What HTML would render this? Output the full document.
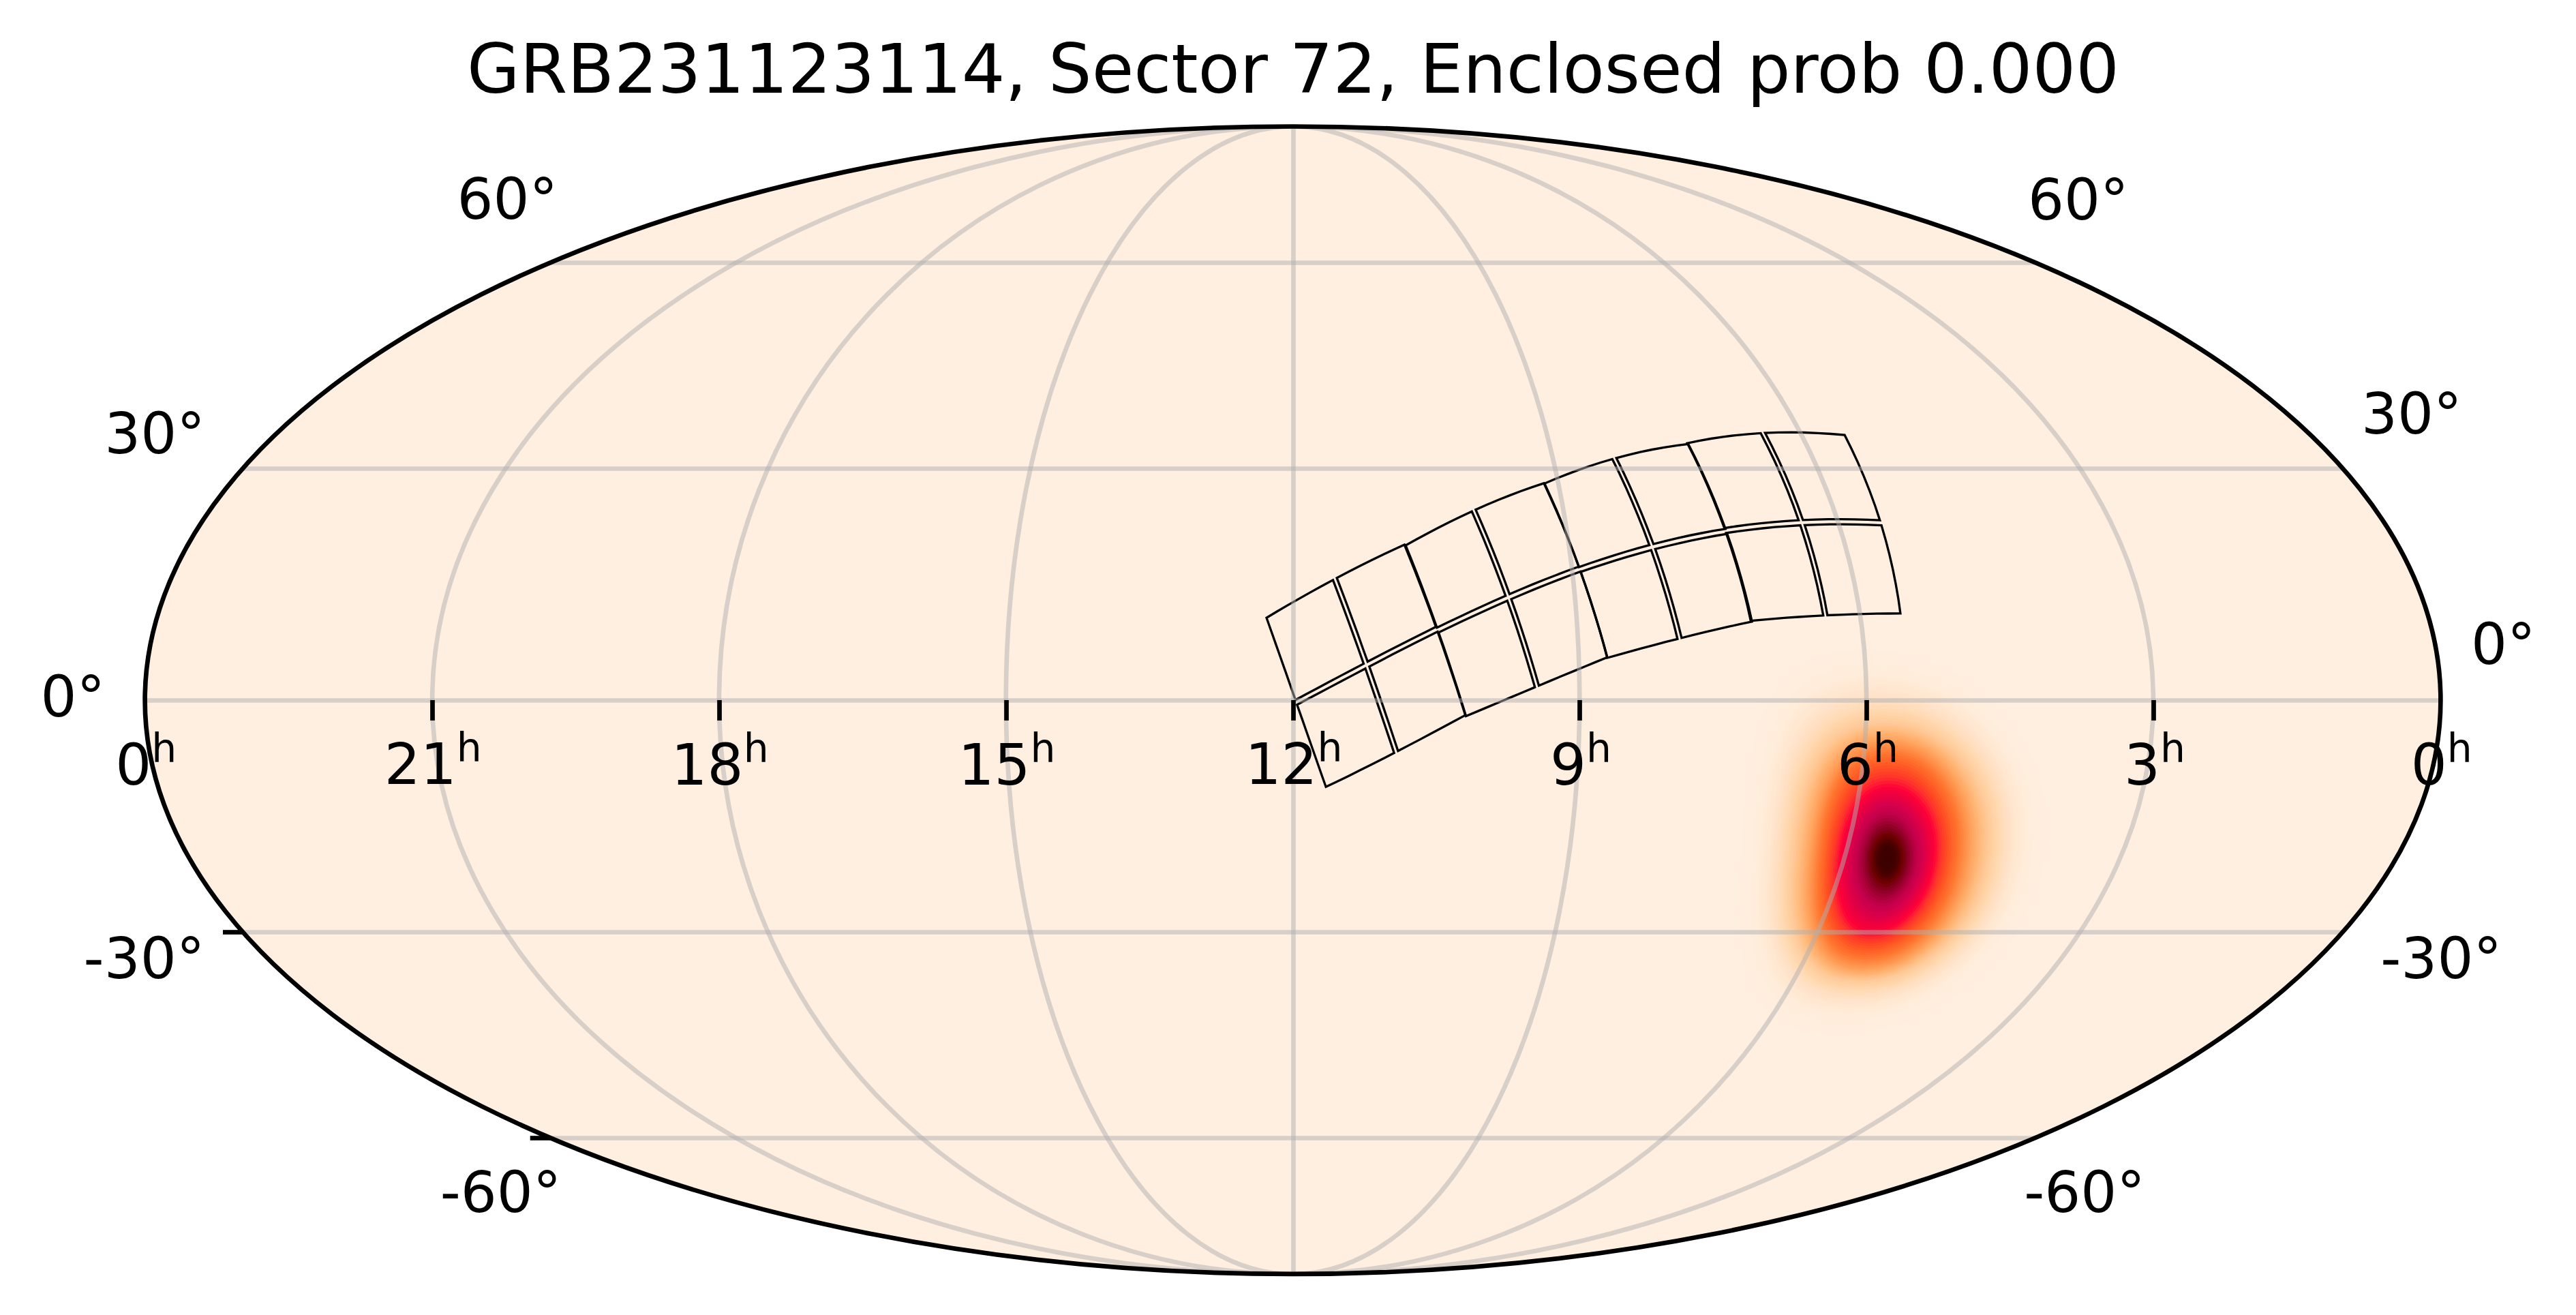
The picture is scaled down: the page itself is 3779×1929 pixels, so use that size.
<!DOCTYPE html>
<html><head><meta charset="utf-8"><title>GRB231123114, Sector 72</title>
<style>
html,body{margin:0;padding:0;background:#fff;}
svg{display:block;}
text{font-family:"DejaVu Sans","Liberation Sans",sans-serif;fill:#000;}
</style></head><body>
<svg width="3779" height="1929" viewBox="0 0 3779 1929">
<rect width="3779" height="1929" fill="#fff"/>
<defs><clipPath id="fr"><ellipse cx="1896.5" cy="1027.2" rx="1683.9" ry="841.7"/></clipPath></defs>
<ellipse cx="1896.5" cy="1027.2" rx="1683.9" ry="841.7" fill="#ffefe0"/>

<g clip-path="url(#fr)">
<path fill="#ffefdf" d="M3010.6 1233.4L3001.9 1289.3L2985.3 1335.9L2961.7 1377.8L2932.3 1415.1L2898.1 1447.6L2860.6 1474.9L2820.7 1496.5L2779.6 1512.3L2737.6 1521.8L2691.5 1525.0L2648.7 1521.8L2616.7 1512.3L2591.3 1496.5L2571.8 1474.9L2557.8 1447.6L2548.6 1415.1L2543.6 1377.8L2542.1 1335.9L2543.6 1289.3L2547.2 1233.4L2551.0 1177.4L2555.8 1130.8L2562.8 1089.0L2572.8 1051.6L2586.3 1019.2L2604.0 991.9L2626.3 970.2L2653.8 954.5L2687.2 944.9L2730.3 941.7L2776.0 944.9L2816.7 954.5L2855.8 970.2L2892.7 991.9L2926.7 1019.2L2956.5 1051.6L2980.9 1089.0L2998.9 1130.8L3009.3 1177.4Z"/>
<path fill="#ffefdf" d="M3007.6 1233.8L2998.9 1289.0L2982.6 1335.1L2959.4 1376.5L2930.3 1413.4L2896.7 1445.5L2859.7 1472.5L2820.4 1494.0L2779.8 1509.5L2738.4 1519.0L2692.9 1522.1L2650.7 1519.0L2619.0 1509.5L2593.9 1494.0L2574.6 1472.5L2560.6 1445.5L2551.4 1413.4L2546.4 1376.5L2544.9 1335.1L2546.3 1289.0L2550.0 1233.8L2553.7 1178.5L2558.6 1132.5L2565.6 1091.1L2575.6 1054.1L2589.1 1022.0L2606.7 995.0L2628.9 973.6L2656.1 958.0L2689.0 948.6L2731.6 945.4L2776.7 948.6L2816.9 958.0L2855.4 973.6L2891.8 995.0L2925.2 1022.0L2954.5 1054.1L2978.5 1091.1L2996.2 1132.5L3006.4 1178.5Z"/>
<path fill="#ffefdf" d="M3004.6 1234.2L2996.0 1288.8L2979.9 1334.3L2957.0 1375.2L2928.4 1411.7L2895.3 1443.5L2858.8 1470.2L2820.0 1491.4L2780.0 1506.8L2739.2 1516.1L2694.3 1519.2L2652.6 1516.1L2621.3 1506.8L2596.4 1491.4L2577.3 1470.2L2563.4 1443.5L2554.3 1411.7L2549.3 1375.2L2547.7 1334.3L2549.1 1288.8L2552.7 1234.2L2556.5 1179.6L2561.3 1134.1L2568.4 1093.1L2578.4 1056.6L2591.8 1024.9L2609.3 998.2L2631.4 977.0L2658.3 961.6L2690.9 952.3L2733.0 949.1L2777.4 952.3L2817.0 961.6L2855.0 977.0L2890.8 998.2L2923.7 1024.9L2952.5 1056.6L2976.2 1093.1L2993.5 1134.1L3003.4 1179.6Z"/>
<path fill="#ffeedf" d="M3001.5 1234.6L2993.1 1288.5L2977.2 1333.5L2954.6 1374.0L2926.5 1410.0L2893.8 1441.5L2857.9 1467.8L2819.7 1488.8L2780.2 1504.0L2739.9 1513.3L2695.6 1516.4L2654.5 1513.3L2623.6 1504.0L2599.0 1488.8L2580.0 1467.8L2566.2 1441.5L2557.1 1410.0L2552.1 1374.0L2550.5 1333.5L2551.8 1288.5L2555.4 1234.6L2559.2 1180.7L2564.1 1135.7L2571.2 1095.2L2581.2 1059.1L2594.6 1027.7L2612.0 1001.3L2633.8 980.4L2660.5 965.2L2692.7 955.9L2734.3 952.8L2778.1 955.9L2817.2 965.2L2854.5 980.4L2889.8 1001.3L2922.2 1027.7L2950.5 1059.1L2973.7 1095.2L2990.7 1135.7L3000.5 1180.7Z"/>
<path fill="#ffeede" d="M2998.5 1235.0L2990.1 1288.2L2974.5 1332.7L2952.3 1372.7L2924.6 1408.4L2892.4 1439.4L2856.9 1465.5L2819.3 1486.2L2780.4 1501.3L2740.7 1510.4L2697.0 1513.5L2656.5 1510.4L2625.9 1501.3L2601.5 1486.2L2582.7 1465.5L2569.1 1439.4L2560.0 1408.4L2554.9 1372.7L2553.3 1332.7L2554.6 1288.2L2558.1 1235.0L2561.9 1181.8L2566.9 1137.3L2574.0 1097.3L2584.0 1061.6L2597.4 1030.6L2614.7 1004.5L2636.3 983.8L2662.7 968.7L2694.6 959.6L2735.5 956.5L2778.8 959.6L2817.3 968.7L2854.1 983.8L2888.8 1004.5L2920.7 1030.6L2948.5 1061.6L2971.3 1097.3L2988.0 1137.3L2997.5 1181.8Z"/>
<path fill="#ffeede" d="M2995.5 1235.4L2987.2 1288.0L2971.8 1331.9L2949.9 1371.4L2922.6 1406.7L2890.9 1437.4L2856.0 1463.1L2819.0 1483.6L2780.6 1498.5L2741.4 1507.5L2698.4 1510.5L2658.4 1507.5L2628.2 1498.5L2604.1 1483.6L2585.5 1463.1L2571.9 1437.4L2562.8 1406.7L2557.8 1371.4L2556.1 1331.9L2557.3 1288.0L2560.8 1235.4L2564.7 1182.8L2569.6 1138.9L2576.8 1099.4L2586.7 1064.2L2600.1 1033.5L2617.3 1007.7L2638.8 987.2L2664.9 972.3L2696.4 963.3L2736.8 960.3L2779.4 963.3L2817.4 972.3L2853.6 987.2L2887.8 1007.7L2919.2 1033.5L2946.5 1064.2L2968.9 1099.4L2985.3 1138.9L2994.6 1182.8Z"/>
<path fill="#ffeede" d="M2992.5 1235.8L2984.3 1287.7L2969.1 1331.1L2947.6 1370.1L2920.7 1405.0L2889.5 1435.3L2855.1 1460.8L2818.6 1481.0L2780.8 1495.7L2742.2 1504.6L2699.7 1507.6L2660.3 1504.6L2630.4 1495.7L2606.6 1481.0L2588.2 1460.8L2574.7 1435.3L2565.7 1405.0L2560.6 1370.1L2558.9 1331.1L2560.1 1287.7L2563.5 1235.8L2567.4 1183.9L2572.4 1140.5L2579.5 1101.5L2589.5 1066.7L2602.8 1036.3L2619.9 1010.9L2641.2 990.6L2667.1 975.9L2698.2 967.0L2738.0 964.0L2780.1 967.0L2817.5 975.9L2853.2 990.6L2886.8 1010.9L2917.6 1036.3L2944.5 1066.7L2966.5 1101.5L2982.5 1140.5L2991.6 1183.9Z"/>
<path fill="#ffeedd" d="M2989.4 1236.2L2981.4 1287.4L2966.4 1330.3L2945.2 1368.9L2918.7 1403.3L2888.0 1433.2L2854.2 1458.4L2818.2 1478.4L2781.0 1492.9L2742.9 1501.7L2701.1 1504.7L2662.2 1501.7L2632.7 1492.9L2609.1 1478.4L2590.9 1458.4L2577.5 1433.2L2568.5 1403.3L2563.4 1368.9L2561.7 1330.3L2562.8 1287.4L2566.2 1236.2L2570.1 1185.0L2575.1 1142.2L2582.3 1103.6L2592.3 1069.2L2605.5 1039.2L2622.5 1014.0L2643.6 994.0L2669.2 979.5L2700.0 970.7L2739.3 967.8L2780.7 970.7L2817.5 979.5L2852.7 994.0L2885.8 1014.0L2916.1 1039.2L2942.5 1069.2L2964.1 1103.6L2979.8 1142.2L2988.6 1185.0Z"/>
<path fill="#ffeddd" d="M2986.4 1236.6L2978.4 1287.2L2963.7 1329.5L2942.8 1367.6L2916.8 1401.6L2886.6 1431.2L2853.2 1456.0L2817.8 1475.8L2781.2 1490.1L2743.6 1498.8L2702.4 1501.8L2664.1 1498.8L2635.0 1490.1L2611.7 1475.8L2593.6 1456.0L2580.3 1431.2L2571.4 1401.6L2566.3 1367.6L2564.5 1329.5L2565.6 1287.2L2569.0 1236.6L2572.8 1186.1L2577.9 1143.8L2585.1 1105.7L2595.0 1071.7L2608.2 1042.1L2625.1 1017.2L2646.0 997.5L2671.4 983.1L2701.7 974.4L2740.5 971.5L2781.3 974.4L2817.6 983.1L2852.2 997.5L2884.8 1017.2L2914.5 1042.1L2940.5 1071.7L2961.6 1105.7L2977.0 1143.8L2985.7 1186.1Z"/>
<path fill="#ffeddc" d="M2983.4 1237.0L2975.5 1286.9L2961.0 1328.7L2940.5 1366.3L2914.8 1399.8L2885.1 1429.1L2852.3 1453.6L2817.4 1473.2L2781.3 1487.3L2744.4 1495.9L2703.7 1498.8L2665.9 1495.9L2637.2 1487.3L2614.2 1473.2L2596.3 1453.6L2583.1 1429.1L2574.2 1399.8L2569.1 1366.3L2567.3 1328.7L2568.3 1286.9L2571.7 1237.0L2575.6 1187.2L2580.6 1145.4L2587.9 1107.8L2597.8 1074.2L2610.9 1045.0L2627.7 1020.4L2648.4 1000.9L2673.5 986.8L2703.5 978.2L2741.7 975.3L2781.9 978.2L2817.6 986.8L2851.7 1000.9L2883.7 1020.4L2913.0 1045.0L2938.4 1074.2L2959.2 1107.8L2974.3 1145.4L2982.7 1187.2Z"/>
<path fill="#ffeddb" d="M2980.3 1237.5L2972.6 1286.6L2958.3 1327.9L2938.1 1365.0L2912.9 1398.1L2883.6 1427.0L2851.4 1451.3L2817.0 1470.5L2781.5 1484.5L2745.1 1493.0L2705.1 1495.9L2667.8 1493.0L2639.4 1484.5L2616.7 1470.5L2599.0 1451.3L2585.9 1427.0L2577.0 1398.1L2572.0 1365.0L2570.1 1327.9L2571.1 1286.6L2574.4 1237.5L2578.3 1188.3L2583.4 1147.0L2590.6 1109.9L2600.5 1076.8L2613.6 1047.9L2630.2 1023.7L2650.8 1004.4L2675.6 990.4L2705.2 981.9L2742.8 979.0L2782.4 981.9L2817.6 990.4L2851.1 1004.4L2882.6 1023.7L2911.4 1047.9L2936.4 1076.8L2956.8 1109.9L2971.5 1147.0L2979.8 1188.3Z"/>
<path fill="#ffecdb" d="M2977.3 1237.9L2969.6 1286.4L2955.6 1327.1L2935.7 1363.7L2910.9 1396.4L2882.2 1424.9L2850.4 1448.9L2816.6 1467.9L2781.6 1481.7L2745.8 1490.1L2706.4 1492.9L2669.6 1490.1L2641.7 1481.7L2619.2 1467.9L2601.6 1448.9L2588.7 1424.9L2579.9 1396.4L2574.8 1363.7L2573.0 1327.1L2573.9 1286.4L2577.1 1237.9L2581.0 1189.4L2586.1 1148.7L2593.4 1112.0L2603.3 1079.3L2616.3 1050.8L2632.8 1026.9L2653.1 1007.8L2677.7 994.0L2706.9 985.6L2744.0 982.8L2783.0 985.6L2817.6 994.0L2850.6 1007.8L2881.6 1026.9L2909.8 1050.8L2934.3 1079.3L2954.3 1112.0L2968.7 1148.7L2976.8 1189.4Z"/>
<path fill="#ffecda" d="M2974.3 1238.4L2966.7 1286.2L2952.8 1326.4L2933.3 1362.5L2908.9 1394.8L2880.7 1423.0L2849.4 1446.6L2816.2 1465.4L2781.7 1479.0L2746.4 1487.3L2707.6 1490.1L2671.4 1487.3L2643.8 1479.0L2621.6 1465.4L2604.3 1446.6L2591.4 1423.0L2582.7 1394.8L2577.6 1362.5L2575.7 1326.4L2576.6 1286.2L2579.8 1238.4L2583.7 1190.6L2588.9 1150.4L2596.1 1114.3L2606.0 1082.0L2619.0 1053.9L2635.3 1030.2L2655.5 1011.5L2679.8 997.8L2708.6 989.5L2745.2 986.8L2783.6 989.5L2817.6 997.8L2850.1 1011.5L2880.5 1030.2L2908.2 1053.9L2932.3 1082.0L2951.9 1114.3L2966.0 1150.4L2973.8 1190.6Z"/>
<path fill="#ffebd8" d="M2971.2 1239.0L2963.7 1286.2L2950.1 1325.8L2930.9 1361.4L2906.9 1393.3L2879.1 1421.1L2848.4 1444.4L2815.7 1462.9L2781.8 1476.4L2747.0 1484.6L2708.8 1487.3L2673.2 1484.6L2645.9 1476.4L2624.0 1462.9L2606.8 1444.4L2594.1 1421.1L2585.4 1393.3L2580.4 1361.4L2578.5 1325.8L2579.3 1286.2L2582.5 1239.0L2586.5 1191.9L2591.6 1152.3L2598.9 1116.6L2608.8 1084.8L2621.6 1057.0L2637.9 1033.7L2657.9 1015.1L2681.9 1001.7L2710.3 993.5L2746.4 990.8L2784.1 993.5L2817.7 1001.7L2849.5 1015.1L2879.4 1033.7L2906.6 1057.0L2930.3 1084.8L2949.4 1116.6L2963.2 1152.3L2970.9 1191.9Z"/>
<path fill="#ffead6" d="M2968.2 1239.6L2960.8 1286.1L2947.4 1325.2L2928.5 1360.3L2904.9 1391.8L2877.5 1419.2L2847.3 1442.2L2815.2 1460.5L2781.8 1473.7L2747.6 1481.8L2710.0 1484.5L2674.9 1481.8L2648.1 1473.7L2626.4 1460.5L2609.4 1442.2L2596.8 1419.2L2588.2 1391.8L2583.1 1360.3L2581.3 1325.2L2582.1 1286.1L2585.2 1239.6L2589.2 1193.2L2594.4 1154.1L2601.6 1118.9L2611.5 1087.5L2624.3 1060.1L2640.5 1037.1L2660.2 1018.8L2683.9 1005.6L2712.0 997.5L2747.5 994.8L2784.7 997.5L2817.7 1005.6L2849.0 1018.8L2878.4 1037.1L2905.1 1060.1L2928.2 1087.5L2947.0 1118.9L2960.5 1154.1L2967.9 1193.2Z"/>
<path fill="#ffe9d4" d="M2965.1 1240.3L2957.8 1286.1L2944.6 1324.6L2926.0 1359.2L2902.9 1390.2L2876.0 1417.2L2846.3 1439.9L2814.6 1458.0L2781.8 1471.1L2748.2 1479.0L2711.2 1481.7L2676.6 1479.0L2650.2 1471.1L2628.8 1458.0L2612.0 1439.9L2599.5 1417.2L2590.9 1390.2L2585.9 1359.2L2584.0 1324.6L2584.8 1286.1L2588.0 1240.3L2591.9 1194.5L2597.1 1156.0L2604.4 1121.3L2614.2 1090.3L2627.0 1063.3L2643.0 1040.6L2662.6 1022.5L2686.0 1009.4L2713.7 1001.5L2748.6 998.8L2785.2 1001.5L2817.7 1009.4L2848.4 1022.5L2877.3 1040.6L2903.5 1063.3L2926.2 1090.3L2944.5 1121.3L2957.7 1156.0L2964.9 1194.5Z"/>
<path fill="#ffe8d2" d="M2962.1 1240.9L2954.9 1286.0L2941.9 1323.9L2923.6 1358.1L2900.8 1388.7L2874.4 1415.3L2845.2 1437.7L2814.1 1455.5L2781.9 1468.4L2748.7 1476.3L2712.3 1478.9L2678.3 1476.3L2652.3 1468.4L2631.2 1455.5L2614.6 1437.7L2602.2 1415.3L2593.7 1388.7L2588.7 1358.1L2586.8 1323.9L2587.5 1286.0L2590.7 1240.9L2594.6 1195.8L2599.8 1157.8L2607.1 1123.6L2616.9 1093.1L2629.6 1066.4L2645.5 1044.0L2664.9 1026.2L2688.0 1013.3L2715.4 1005.5L2749.8 1002.9L2785.7 1005.5L2817.6 1013.3L2847.9 1026.2L2876.2 1044.0L2901.8 1066.4L2924.1 1093.1L2942.0 1123.6L2954.9 1157.8L2961.9 1195.8Z"/>
<path fill="#ffe7d0" d="M2959.0 1241.5L2951.9 1285.9L2939.1 1323.3L2921.2 1357.0L2898.8 1387.2L2872.9 1413.4L2844.2 1435.5L2813.6 1453.0L2781.9 1465.8L2749.3 1473.5L2713.5 1476.1L2680.0 1473.5L2654.3 1465.8L2633.5 1453.0L2617.1 1435.5L2604.9 1413.4L2596.5 1387.2L2591.5 1357.0L2589.6 1323.3L2590.3 1285.9L2593.4 1241.5L2597.4 1197.1L2602.6 1159.7L2609.9 1126.0L2619.6 1095.8L2632.3 1069.6L2648.0 1047.5L2667.2 1030.0L2690.1 1017.2L2717.0 1009.5L2750.8 1006.9L2786.2 1009.5L2817.6 1017.2L2847.3 1030.0L2875.0 1047.5L2900.2 1069.6L2922.0 1095.8L2939.6 1126.0L2952.1 1159.7L2959.0 1197.1Z"/>
<path fill="#ffe5ce" d="M2956.0 1242.1L2948.9 1285.9L2936.4 1322.7L2918.7 1355.9L2896.8 1385.6L2871.3 1411.5L2843.1 1433.2L2813.1 1450.5L2781.9 1463.1L2749.9 1470.7L2714.7 1473.3L2681.7 1470.7L2656.4 1463.1L2635.9 1450.5L2619.7 1433.2L2607.6 1411.5L2599.2 1385.6L2594.3 1355.9L2592.3 1322.7L2593.0 1285.9L2596.1 1242.1L2600.1 1198.4L2605.3 1161.5L2612.6 1128.3L2622.3 1098.6L2634.9 1072.7L2650.5 1051.0L2669.5 1033.7L2692.0 1021.1L2718.6 1013.5L2751.9 1011.0L2786.7 1013.5L2817.5 1021.1L2846.7 1033.7L2873.9 1051.0L2898.6 1072.7L2919.9 1098.6L2937.1 1128.3L2949.4 1161.5L2956.0 1198.4Z"/>
<path fill="#ffe4cb" d="M2952.9 1242.7L2946.0 1285.8L2933.6 1322.1L2916.3 1354.8L2894.7 1384.1L2869.7 1409.6L2842.0 1431.0L2812.5 1448.0L2781.9 1460.4L2750.4 1467.9L2715.8 1470.5L2683.4 1467.9L2658.5 1460.4L2638.3 1448.0L2622.3 1431.0L2610.3 1409.6L2602.0 1384.1L2597.0 1354.8L2595.1 1322.1L2595.8 1285.8L2598.8 1242.7L2602.8 1199.7L2608.0 1163.4L2615.3 1130.7L2625.0 1101.4L2637.5 1075.9L2653.0 1054.5L2671.7 1037.4L2694.0 1025.0L2720.2 1017.5L2753.0 1015.0L2787.1 1017.5L2817.4 1025.0L2846.0 1037.4L2872.8 1054.5L2896.9 1075.9L2917.8 1101.4L2934.6 1130.7L2946.6 1163.4L2953.0 1199.7Z"/>
<path fill="#ffe2c7" d="M2949.9 1243.4L2943.0 1285.7L2930.9 1321.5L2913.9 1353.7L2892.7 1382.5L2868.1 1407.6L2841.0 1428.7L2812.0 1445.5L2781.9 1457.7L2750.9 1465.1L2716.9 1467.6L2685.1 1465.1L2660.6 1457.7L2640.6 1445.5L2624.8 1428.7L2613.0 1407.6L2604.7 1382.5L2599.8 1353.7L2597.9 1321.5L2598.5 1285.7L2601.5 1243.4L2605.5 1201.0L2610.8 1165.3L2618.0 1133.0L2627.7 1104.2L2640.1 1079.1L2655.4 1058.0L2674.0 1041.2L2696.0 1029.0L2721.7 1021.6L2754.0 1019.1L2787.6 1021.6L2817.3 1029.0L2845.4 1041.2L2871.6 1058.0L2895.3 1079.1L2915.7 1104.2L2932.1 1133.0L2943.8 1165.3L2950.0 1201.0Z"/>
<path fill="#ffe0c4" d="M2946.8 1244.0L2940.1 1285.7L2928.1 1320.8L2911.4 1352.6L2890.7 1380.9L2866.6 1405.7L2839.9 1426.5L2811.5 1443.0L2781.9 1455.0L2751.5 1462.3L2718.1 1464.8L2686.8 1462.3L2662.6 1455.0L2642.9 1443.0L2627.4 1426.5L2615.6 1405.7L2607.5 1380.9L2602.6 1352.6L2600.6 1320.8L2601.2 1285.7L2604.2 1244.0L2608.2 1202.3L2613.5 1167.1L2620.7 1135.4L2630.4 1107.0L2642.7 1082.3L2657.9 1061.5L2676.2 1044.9L2697.9 1032.9L2723.3 1025.6L2755.0 1023.2L2788.0 1025.6L2817.2 1032.9L2844.7 1044.9L2870.4 1061.5L2893.6 1082.3L2913.6 1107.0L2929.6 1135.4L2941.0 1167.1L2947.0 1202.3Z"/>
<path fill="#ffdfc0" d="M2943.8 1244.6L2937.1 1285.6L2925.4 1320.2L2909.0 1351.4L2888.6 1379.4L2865.0 1403.7L2838.8 1424.2L2810.9 1440.5L2781.9 1452.3L2752.0 1459.5L2719.2 1461.9L2688.5 1459.5L2664.7 1452.3L2645.3 1440.5L2629.9 1424.2L2618.3 1403.7L2610.2 1379.4L2605.4 1351.4L2603.4 1320.2L2604.0 1285.6L2606.9 1244.6L2610.9 1203.6L2616.2 1169.0L2623.4 1137.7L2633.0 1109.8L2645.2 1085.4L2660.3 1065.0L2678.4 1048.7L2699.8 1036.9L2724.8 1029.7L2755.9 1027.3L2788.4 1029.7L2817.0 1036.9L2844.0 1048.7L2869.2 1065.0L2891.9 1085.4L2911.4 1109.8L2927.1 1137.7L2938.2 1169.0L2944.0 1203.6Z"/>
<path fill="#ffddbb" d="M2940.7 1245.2L2934.1 1285.5L2922.6 1319.6L2906.6 1350.4L2886.6 1377.9L2863.4 1401.9L2837.7 1422.1L2810.3 1438.1L2781.8 1449.8L2752.5 1456.8L2720.3 1459.2L2690.1 1456.8L2666.7 1449.8L2647.6 1438.1L2632.4 1422.1L2620.9 1401.9L2613.0 1377.9L2608.1 1350.4L2606.2 1319.6L2606.7 1285.5L2609.7 1245.2L2613.6 1204.8L2618.9 1170.8L2626.1 1140.0L2635.6 1112.5L2647.7 1088.5L2662.6 1068.3L2680.6 1052.3L2701.6 1040.6L2726.2 1033.6L2756.9 1031.2L2788.7 1033.6L2816.8 1040.6L2843.3 1052.3L2867.9 1068.3L2890.2 1088.5L2909.3 1112.5L2924.5 1140.0L2935.4 1170.8L2941.0 1204.8Z"/>
<path fill="#ffdbb7" d="M2937.7 1245.8L2931.2 1285.5L2919.9 1319.1L2904.1 1349.5L2884.4 1376.6L2861.7 1400.3L2836.5 1420.2L2809.6 1436.0L2781.6 1447.5L2752.8 1454.5L2721.2 1456.8L2691.5 1454.5L2668.5 1447.5L2649.7 1436.0L2634.8 1420.2L2623.5 1400.3L2615.6 1376.6L2610.9 1349.5L2608.9 1319.1L2609.5 1285.5L2612.4 1245.8L2616.4 1206.0L2621.6 1172.4L2628.8 1142.1L2638.2 1114.9L2650.2 1091.3L2664.9 1071.4L2682.6 1055.6L2703.4 1044.1L2727.6 1037.1L2757.6 1034.7L2788.9 1037.1L2816.4 1044.1L2842.4 1055.6L2866.6 1071.4L2888.4 1091.3L2907.1 1114.9L2922.0 1142.1L2932.5 1172.4L2938.0 1206.0Z"/>
<path fill="#ffd9b2" d="M2934.6 1246.3L2928.2 1285.5L2917.1 1318.6L2901.6 1348.5L2882.3 1375.3L2860.0 1398.6L2835.2 1418.2L2808.8 1433.8L2781.4 1445.2L2753.1 1452.1L2722.1 1454.4L2693.0 1452.1L2670.4 1445.2L2651.9 1433.8L2637.2 1418.2L2626.1 1398.6L2618.3 1375.3L2613.6 1348.5L2611.7 1318.6L2612.2 1285.5L2615.1 1246.3L2619.1 1207.2L2624.3 1174.1L2631.4 1144.2L2640.8 1117.4L2652.7 1094.1L2667.2 1074.5L2684.6 1058.8L2705.1 1047.5L2728.9 1040.6L2758.4 1038.3L2789.1 1040.6L2816.1 1047.5L2841.6 1058.8L2865.3 1074.5L2886.6 1094.1L2904.8 1117.4L2919.4 1144.2L2929.7 1174.1L2935.0 1207.2Z"/>
<path fill="#ffd6ad" d="M2931.6 1246.9L2925.2 1285.5L2914.3 1318.1L2899.1 1347.6L2880.2 1373.9L2858.3 1397.0L2834.0 1416.3L2808.1 1431.7L2781.2 1442.9L2753.4 1449.6L2723.0 1451.9L2694.4 1449.6L2672.2 1442.9L2654.0 1431.7L2639.6 1416.3L2628.6 1397.0L2621.0 1373.9L2616.3 1347.6L2614.4 1318.1L2615.0 1285.5L2617.8 1246.9L2621.8 1208.4L2627.0 1175.7L2634.1 1146.3L2643.4 1119.9L2655.1 1096.9L2669.5 1077.6L2686.7 1062.2L2706.8 1051.0L2730.2 1044.2L2759.2 1041.9L2789.2 1044.2L2815.8 1051.0L2840.7 1062.2L2863.9 1077.6L2884.8 1096.9L2902.6 1119.9L2916.9 1146.3L2926.9 1175.7L2932.0 1208.4Z"/>
<path fill="#ffd4a8" d="M2928.5 1247.5L2922.3 1285.5L2911.5 1317.6L2896.6 1346.6L2878.1 1372.6L2856.6 1395.3L2832.8 1414.3L2807.4 1429.5L2781.0 1440.5L2753.8 1447.2L2723.9 1449.4L2695.9 1447.2L2674.1 1440.5L2656.2 1429.5L2642.0 1414.3L2631.2 1395.3L2623.6 1372.6L2619.0 1346.6L2617.2 1317.6L2617.7 1285.5L2620.5 1247.5L2624.5 1209.5L2629.7 1177.4L2636.7 1148.4L2645.9 1122.4L2657.6 1099.7L2671.7 1080.7L2688.7 1065.5L2708.5 1054.5L2731.5 1047.8L2759.9 1045.6L2789.4 1047.8L2815.4 1054.5L2839.9 1065.5L2862.6 1080.7L2882.9 1099.7L2900.4 1122.4L2914.3 1148.4L2924.0 1177.4L2929.0 1209.5Z"/>
<path fill="#ffd1a3" d="M2925.5 1248.1L2919.3 1285.4L2908.8 1317.1L2894.1 1345.7L2876.0 1371.2L2854.9 1393.6L2831.6 1412.3L2806.7 1427.3L2780.8 1438.1L2754.1 1444.7L2724.8 1446.9L2697.3 1444.7L2675.9 1438.1L2658.4 1427.3L2644.4 1412.3L2633.8 1393.6L2626.3 1371.2L2621.8 1345.7L2619.9 1317.1L2620.5 1285.4L2623.3 1248.1L2627.2 1210.7L2632.4 1179.1L2639.4 1150.5L2648.5 1124.9L2660.0 1102.6L2674.0 1083.8L2690.7 1068.9L2710.2 1058.0L2732.8 1051.4L2760.7 1049.2L2789.5 1051.4L2815.0 1058.0L2839.0 1068.9L2861.2 1083.8L2881.1 1102.6L2898.2 1124.9L2911.7 1150.5L2921.2 1179.1L2926.0 1210.7Z"/>
<path fill="#ffce9f" d="M2922.4 1248.7L2916.4 1285.4L2906.0 1316.5L2891.7 1344.7L2873.8 1369.9L2853.2 1391.8L2830.4 1410.3L2806.0 1425.0L2780.6 1435.7L2754.4 1442.2L2725.7 1444.4L2698.8 1442.2L2677.8 1435.7L2660.5 1425.0L2646.8 1410.3L2636.3 1391.8L2629.0 1369.9L2624.5 1344.7L2622.7 1316.5L2623.2 1285.4L2626.0 1248.7L2629.9 1211.9L2635.0 1180.8L2642.0 1152.6L2651.1 1127.5L2662.4 1105.5L2676.2 1087.0L2692.7 1072.3L2711.8 1061.6L2734.0 1055.1L2761.4 1052.9L2789.7 1055.1L2814.6 1061.6L2838.1 1072.3L2859.8 1087.0L2879.3 1105.5L2895.9 1127.5L2909.1 1152.6L2918.4 1180.8L2923.0 1211.9Z"/>
<path fill="#ffcb9a" d="M2919.4 1249.2L2913.4 1285.3L2903.2 1316.0L2889.2 1343.7L2871.7 1368.5L2851.5 1390.1L2829.1 1408.3L2805.3 1422.8L2780.4 1433.3L2754.8 1439.7L2726.7 1441.8L2700.3 1439.7L2679.6 1433.3L2662.7 1422.8L2649.2 1408.3L2638.9 1390.1L2631.7 1368.5L2627.3 1343.7L2625.4 1316.0L2626.0 1285.3L2628.7 1249.2L2632.6 1213.1L2637.7 1182.5L2644.6 1154.8L2653.6 1130.0L2664.8 1108.4L2678.5 1090.2L2694.6 1075.7L2713.5 1065.2L2735.3 1058.8L2762.1 1056.7L2789.8 1058.8L2814.2 1065.2L2837.2 1075.7L2858.4 1090.2L2877.4 1108.4L2893.7 1130.0L2906.5 1154.8L2915.5 1182.5L2920.0 1213.1Z"/>
<path fill="#ffc795" d="M2916.3 1249.8L2910.4 1285.3L2900.5 1315.4L2886.7 1342.7L2869.6 1367.0L2849.8 1388.3L2827.9 1406.2L2804.6 1420.5L2780.2 1430.8L2755.1 1437.1L2727.6 1439.2L2701.7 1437.1L2681.5 1430.8L2664.9 1420.5L2651.6 1406.2L2641.5 1388.3L2634.4 1367.0L2630.0 1342.7L2628.2 1315.4L2628.7 1285.3L2631.4 1249.8L2635.3 1214.3L2640.4 1184.2L2647.3 1157.0L2656.1 1132.6L2667.2 1111.3L2680.7 1093.4L2696.6 1079.1L2715.1 1068.8L2736.5 1062.5L2762.8 1060.4L2789.9 1062.5L2813.8 1068.8L2836.3 1079.1L2857.0 1093.4L2875.6 1111.3L2891.4 1132.6L2904.0 1157.0L2912.7 1184.2L2917.0 1214.3Z"/>
<path fill="#ffc48d" d="M2913.3 1250.3L2907.5 1285.3L2897.7 1315.0L2884.2 1341.9L2867.4 1366.0L2848.0 1387.0L2826.6 1404.7L2803.6 1418.7L2779.8 1429.0L2755.2 1435.2L2728.3 1437.2L2702.9 1435.2L2683.1 1429.0L2666.9 1418.7L2653.8 1404.7L2643.9 1387.0L2636.9 1366.0L2632.7 1341.9L2630.9 1315.0L2631.5 1285.3L2634.2 1250.3L2638.0 1215.3L2643.1 1185.6L2649.9 1158.7L2658.6 1134.6L2669.5 1113.6L2682.8 1096.0L2698.4 1081.9L2716.6 1071.7L2737.6 1065.5L2763.3 1063.4L2789.8 1065.5L2813.3 1071.7L2835.2 1081.9L2855.5 1096.0L2873.6 1113.6L2889.1 1134.6L2901.3 1158.7L2909.8 1185.6L2914.0 1215.3Z"/>
<path fill="#ffc086" d="M2910.2 1250.8L2904.5 1285.4L2894.9 1314.7L2881.6 1341.3L2865.2 1365.1L2846.1 1385.9L2825.1 1403.3L2802.6 1417.2L2779.3 1427.3L2755.2 1433.5L2728.8 1435.5L2704.0 1433.5L2684.7 1427.3L2668.7 1417.2L2656.0 1403.3L2646.3 1385.9L2639.5 1365.1L2635.3 1341.3L2633.7 1314.7L2634.2 1285.4L2636.9 1250.8L2640.7 1216.2L2645.7 1186.9L2652.4 1160.3L2661.1 1136.5L2671.8 1115.7L2684.8 1098.3L2700.2 1084.4L2718.0 1074.3L2738.6 1068.1L2763.7 1066.1L2789.7 1068.1L2812.6 1074.3L2834.1 1084.4L2853.9 1098.3L2871.7 1115.7L2886.8 1136.5L2898.7 1160.3L2906.9 1186.9L2911.0 1216.2Z"/>
<path fill="#ffbc7f" d="M2907.2 1251.3L2901.5 1285.4L2892.0 1314.4L2879.0 1340.6L2862.9 1364.1L2844.3 1384.7L2823.7 1401.9L2801.7 1415.6L2778.8 1425.6L2755.2 1431.7L2729.4 1433.7L2705.2 1431.7L2686.2 1425.6L2670.6 1415.6L2658.2 1401.9L2648.7 1384.7L2642.0 1364.1L2638.0 1340.6L2636.4 1314.4L2637.0 1285.4L2639.6 1251.3L2643.5 1217.2L2648.4 1188.2L2655.0 1161.9L2663.5 1138.4L2674.1 1117.9L2686.9 1100.6L2701.9 1086.9L2719.4 1076.9L2739.5 1070.9L2764.2 1068.8L2789.6 1070.9L2812.0 1076.9L2833.0 1086.9L2852.4 1100.6L2869.7 1117.9L2884.4 1138.4L2896.0 1161.9L2904.1 1188.2L2908.0 1217.2Z"/>
<path fill="#ffb678" d="M2904.1 1251.8L2898.5 1285.4L2889.2 1314.0L2876.5 1339.9L2860.7 1363.1L2842.4 1383.4L2822.2 1400.4L2800.7 1414.0L2778.3 1423.9L2755.2 1429.8L2730.0 1431.8L2706.3 1429.8L2687.8 1423.9L2672.5 1414.0L2660.4 1400.4L2651.1 1383.4L2644.6 1363.1L2640.7 1339.9L2639.1 1314.0L2639.7 1285.4L2642.4 1251.8L2646.2 1218.1L2651.1 1189.5L2657.6 1163.6L2666.0 1140.4L2676.4 1120.1L2688.9 1103.1L2703.7 1089.5L2720.8 1079.7L2740.5 1073.7L2764.6 1071.7L2789.4 1073.7L2811.3 1079.7L2831.9 1089.5L2850.8 1103.1L2867.7 1120.1L2882.1 1140.4L2893.4 1163.6L2901.2 1189.5L2905.0 1218.1Z"/>
<path fill="#ffb271" d="M2901.1 1252.2L2895.6 1285.4L2886.4 1313.6L2873.9 1339.2L2858.5 1362.1L2840.6 1382.1L2820.8 1398.9L2799.8 1412.3L2777.8 1422.0L2755.3 1427.9L2730.7 1429.9L2707.5 1427.9L2689.4 1422.0L2674.5 1412.3L2662.6 1398.9L2653.5 1382.1L2647.2 1362.1L2643.3 1339.2L2641.8 1313.6L2642.5 1285.4L2645.1 1252.2L2648.9 1219.1L2653.7 1190.8L2660.2 1165.3L2668.4 1142.4L2678.6 1122.4L2691.0 1105.6L2705.5 1092.2L2722.2 1082.5L2741.5 1076.5L2765.0 1074.6L2789.3 1076.5L2810.7 1082.5L2830.7 1092.2L2849.2 1105.6L2865.7 1122.4L2879.7 1142.4L2890.8 1165.3L2898.3 1190.8L2902.0 1219.1Z"/>
<path fill="#ffac6a" d="M2898.0 1252.7L2892.6 1285.4L2883.6 1313.2L2871.4 1338.4L2856.3 1361.0L2838.8 1380.7L2819.4 1397.3L2798.8 1410.5L2777.4 1420.1L2755.4 1425.9L2731.3 1427.9L2708.7 1425.9L2691.0 1420.1L2676.4 1410.5L2664.8 1397.3L2655.9 1380.7L2649.8 1361.0L2646.0 1338.4L2644.6 1313.2L2645.2 1285.4L2647.9 1252.7L2651.6 1220.0L2656.4 1192.2L2662.8 1167.0L2670.9 1144.4L2680.9 1124.7L2693.0 1108.1L2707.2 1094.9L2723.7 1085.3L2742.5 1079.5L2765.5 1077.5L2789.2 1079.5L2810.1 1085.3L2829.6 1094.9L2847.7 1108.1L2863.7 1124.7L2877.4 1144.4L2888.1 1167.0L2895.5 1192.2L2899.0 1220.0Z"/>
<path fill="#ffa763" d="M2895.0 1253.2L2889.6 1285.4L2880.9 1312.8L2868.9 1337.6L2854.1 1359.9L2837.0 1379.3L2818.1 1395.7L2797.9 1408.7L2777.0 1418.2L2755.5 1423.9L2732.0 1425.8L2709.9 1423.9L2692.6 1418.2L2678.4 1408.7L2667.0 1395.7L2658.4 1379.3L2652.4 1359.9L2648.7 1337.6L2647.3 1312.8L2648.0 1285.4L2650.6 1253.2L2654.3 1221.0L2659.1 1193.6L2665.3 1168.8L2673.3 1146.5L2683.2 1127.1L2695.0 1110.7L2709.0 1097.7L2725.1 1088.2L2743.5 1082.5L2765.9 1080.6L2789.0 1082.5L2809.4 1088.2L2828.5 1097.7L2846.1 1110.7L2861.8 1127.1L2875.0 1146.5L2885.5 1168.8L2892.6 1193.6L2896.0 1221.0Z"/>
<path fill="#ffa15b" d="M2891.9 1253.7L2886.7 1285.3L2878.1 1312.3L2866.3 1336.8L2851.9 1358.7L2835.2 1377.9L2816.7 1394.0L2797.1 1406.8L2776.6 1416.1L2755.6 1421.8L2732.7 1423.7L2711.2 1421.8L2694.3 1416.1L2680.4 1406.8L2669.3 1394.0L2660.9 1377.9L2655.0 1358.7L2651.4 1336.8L2650.1 1312.3L2650.7 1285.3L2653.4 1253.7L2657.0 1222.0L2661.7 1195.0L2667.9 1170.6L2675.8 1148.6L2685.5 1129.5L2697.1 1113.4L2710.7 1100.6L2726.5 1091.2L2744.5 1085.6L2766.4 1083.7L2788.9 1085.6L2808.8 1091.2L2827.4 1100.6L2844.5 1113.4L2859.8 1129.5L2872.7 1148.6L2882.8 1170.6L2889.7 1195.0L2892.9 1222.0Z"/>
<path fill="#ff9a54" d="M2888.9 1254.1L2883.7 1285.2L2875.3 1311.8L2863.8 1335.8L2849.7 1357.4L2833.4 1376.2L2815.4 1392.1L2796.2 1404.7L2776.3 1413.9L2755.8 1419.4L2733.5 1421.3L2712.5 1419.4L2696.0 1413.9L2682.4 1404.7L2671.6 1392.1L2663.4 1376.2L2657.6 1357.4L2654.2 1335.8L2652.9 1311.8L2653.5 1285.2L2656.1 1254.1L2659.7 1223.0L2664.4 1196.4L2670.5 1172.3L2678.2 1150.8L2687.7 1131.9L2699.1 1116.1L2712.5 1103.5L2727.9 1094.3L2745.5 1088.7L2766.8 1086.8L2788.8 1088.7L2808.2 1094.3L2826.3 1103.5L2842.9 1116.1L2857.8 1131.9L2870.3 1150.8L2880.1 1172.3L2886.8 1196.4L2889.9 1223.0Z"/>
<path fill="#ff944e" d="M2885.9 1254.3L2880.8 1284.9L2872.6 1311.0L2861.4 1334.6L2847.6 1355.8L2831.7 1374.3L2814.1 1389.9L2795.4 1402.3L2775.9 1411.3L2755.9 1416.8L2734.1 1418.6L2713.6 1416.8L2697.5 1411.3L2684.3 1402.3L2673.7 1389.9L2665.6 1374.3L2660.0 1355.8L2656.6 1334.6L2655.3 1311.0L2655.9 1284.9L2658.5 1254.3L2662.1 1223.8L2666.6 1197.7L2672.7 1174.0L2680.3 1152.8L2689.6 1134.3L2700.8 1118.7L2713.9 1106.3L2729.0 1097.3L2746.2 1091.8L2767.0 1090.0L2788.5 1091.8L2807.4 1097.3L2825.0 1106.3L2841.3 1118.7L2855.7 1134.3L2867.9 1152.8L2877.5 1174.0L2883.9 1197.7L2886.9 1223.8Z"/>
<path fill="#ff8d47" d="M2882.9 1254.6L2877.9 1284.5L2869.9 1310.2L2858.9 1333.4L2845.5 1354.2L2830.0 1372.4L2812.8 1387.7L2794.6 1399.9L2775.6 1408.7L2756.1 1414.1L2734.8 1415.9L2714.8 1414.1L2699.1 1408.7L2686.2 1399.9L2675.8 1387.7L2667.9 1372.4L2662.3 1354.2L2659.0 1333.4L2657.8 1310.2L2658.4 1284.5L2660.9 1254.6L2664.4 1224.6L2668.9 1199.0L2674.9 1175.7L2682.4 1154.9L2691.6 1136.8L2702.5 1121.4L2715.4 1109.3L2730.1 1100.4L2746.9 1095.0L2767.3 1093.2L2788.2 1095.0L2806.6 1100.4L2823.8 1109.3L2839.6 1121.4L2853.6 1136.8L2865.5 1154.9L2874.8 1175.7L2881.0 1199.0L2883.9 1224.6Z"/>
<path fill="#ff8640" d="M2879.8 1254.8L2875.0 1284.2L2867.1 1309.3L2856.5 1332.1L2843.4 1352.5L2828.3 1370.4L2811.6 1385.4L2793.8 1397.3L2775.3 1406.0L2756.3 1411.3L2735.6 1413.1L2716.1 1411.3L2700.7 1406.0L2688.1 1397.3L2677.9 1385.4L2670.2 1370.4L2664.7 1352.5L2661.5 1332.1L2660.2 1309.3L2660.8 1284.2L2663.3 1254.8L2666.8 1225.4L2671.2 1200.3L2677.1 1177.5L2684.5 1157.1L2693.5 1139.2L2704.2 1124.2L2716.8 1112.3L2731.2 1103.6L2747.6 1098.3L2767.5 1096.5L2787.9 1098.3L2805.8 1103.6L2822.6 1112.3L2837.9 1124.2L2851.6 1139.2L2863.1 1157.1L2872.1 1177.5L2878.1 1200.3L2880.9 1225.4Z"/>
<path fill="#ff7e38" d="M2876.8 1255.0L2872.0 1283.8L2864.4 1308.5L2854.0 1330.8L2841.3 1350.8L2826.6 1368.3L2810.3 1383.1L2793.0 1394.8L2775.0 1403.3L2756.5 1408.5L2736.3 1410.2L2717.3 1408.5L2702.3 1403.3L2690.0 1394.8L2680.1 1383.1L2672.5 1368.3L2667.2 1350.8L2664.0 1330.8L2662.7 1308.5L2663.3 1283.8L2665.7 1255.0L2669.2 1226.2L2673.6 1201.6L2679.3 1179.3L2686.6 1159.3L2695.4 1141.8L2706.0 1127.0L2718.3 1115.3L2732.4 1106.8L2748.4 1101.6L2767.7 1099.9L2787.6 1101.6L2805.0 1106.8L2821.3 1115.3L2836.3 1127.0L2849.5 1141.8L2860.7 1159.3L2869.4 1179.3L2875.2 1201.6L2877.9 1226.2Z"/>
<path fill="#ff7731" d="M2873.8 1255.3L2869.1 1283.5L2861.7 1307.6L2851.6 1329.5L2839.2 1349.1L2824.9 1366.2L2809.1 1380.7L2792.3 1392.2L2774.7 1400.5L2756.7 1405.6L2737.1 1407.3L2718.6 1405.6L2704.0 1400.5L2691.9 1392.2L2682.2 1380.7L2674.8 1366.2L2669.6 1349.1L2666.5 1329.5L2665.3 1307.6L2665.8 1283.5L2668.2 1255.3L2671.6 1227.1L2675.9 1203.0L2681.6 1181.1L2688.7 1161.5L2697.4 1144.3L2707.7 1129.9L2719.7 1118.4L2733.5 1110.1L2749.1 1105.0L2768.0 1103.3L2787.3 1105.0L2804.2 1110.1L2820.1 1118.4L2834.6 1129.9L2847.4 1144.3L2858.3 1161.5L2866.7 1181.1L2872.3 1203.0L2874.9 1227.1Z"/>
<path fill="#ff702e" d="M2870.8 1255.5L2866.2 1283.1L2859.0 1306.7L2849.2 1328.1L2837.1 1347.3L2823.2 1364.1L2807.9 1378.2L2791.5 1389.5L2774.5 1397.6L2756.9 1402.6L2737.8 1404.3L2719.9 1402.6L2705.6 1397.6L2693.9 1389.5L2684.4 1378.2L2677.2 1364.1L2672.1 1347.3L2669.0 1328.1L2667.8 1306.7L2668.4 1283.1L2670.7 1255.5L2674.0 1228.0L2678.3 1204.4L2683.8 1182.9L2690.8 1163.7L2699.4 1147.0L2709.5 1132.8L2721.2 1121.6L2734.6 1113.4L2749.9 1108.4L2768.2 1106.8L2787.0 1108.4L2803.5 1113.4L2818.8 1121.6L2832.9 1132.8L2845.4 1147.0L2855.9 1163.7L2864.0 1182.9L2869.4 1204.4L2871.8 1228.0Z"/>
<path fill="#ff6a2b" d="M2867.7 1255.8L2863.3 1282.6L2856.3 1305.7L2846.8 1326.6L2835.0 1345.4L2821.5 1361.8L2806.6 1375.7L2790.7 1386.7L2774.2 1394.7L2757.1 1399.6L2738.6 1401.2L2721.2 1399.6L2707.4 1394.7L2695.9 1386.7L2686.7 1375.7L2679.6 1361.8L2674.6 1345.4L2671.6 1326.6L2670.4 1305.7L2670.9 1282.6L2673.2 1255.8L2676.4 1228.9L2680.6 1205.8L2686.1 1184.9L2693.0 1166.1L2701.4 1149.7L2711.3 1135.8L2722.8 1124.8L2735.9 1116.8L2750.7 1111.9L2768.4 1110.3L2786.6 1111.9L2802.6 1116.8L2817.5 1124.8L2831.2 1135.8L2843.3 1149.7L2853.4 1166.1L2861.3 1184.9L2866.5 1205.8L2868.8 1228.9Z"/>
<path fill="#ff6328" d="M2864.7 1256.0L2860.4 1282.0L2853.6 1304.5L2844.3 1325.0L2833.0 1343.3L2819.8 1359.5L2805.3 1373.0L2789.9 1383.8L2773.8 1391.7L2757.3 1396.5L2739.5 1398.1L2722.7 1396.5L2709.3 1391.7L2698.1 1383.8L2689.1 1373.0L2682.2 1359.5L2677.3 1343.3L2674.3 1325.0L2673.1 1304.5L2673.6 1282.0L2675.7 1256.0L2678.9 1230.0L2683.1 1207.5L2688.5 1187.0L2695.2 1168.7L2703.5 1152.5L2713.2 1139.0L2724.4 1128.2L2737.2 1120.3L2751.6 1115.5L2768.7 1113.9L2786.2 1115.5L2801.7 1120.3L2816.1 1128.2L2829.4 1139.0L2841.1 1152.5L2850.9 1168.7L2858.5 1187.0L2863.6 1207.5L2865.8 1230.0Z"/>
<path fill="#ff5a26" d="M2861.7 1256.5L2857.5 1281.6L2850.9 1303.4L2841.9 1323.3L2830.9 1341.3L2818.1 1357.0L2804.0 1370.3L2789.0 1380.8L2773.4 1388.5L2757.5 1393.2L2740.3 1394.8L2724.2 1393.2L2711.2 1388.5L2700.4 1380.8L2691.6 1370.3L2684.8 1357.0L2679.9 1341.3L2677.0 1323.3L2675.7 1303.4L2676.2 1281.6L2678.2 1256.5L2681.4 1231.4L2685.5 1209.6L2690.8 1189.7L2697.5 1171.7L2705.6 1156.0L2715.1 1142.7L2726.1 1132.2L2738.6 1124.5L2752.5 1119.8L2769.0 1118.2L2785.8 1119.8L2800.8 1124.5L2814.8 1132.2L2827.6 1142.7L2838.9 1156.0L2848.4 1171.7L2855.8 1189.7L2860.6 1209.6L2862.7 1231.4Z"/>
<path fill="#ff5224" d="M2858.6 1257.0L2854.6 1281.1L2848.2 1302.3L2839.5 1321.7L2828.8 1339.2L2816.4 1354.5L2802.8 1367.5L2788.2 1377.8L2773.1 1385.3L2757.7 1389.9L2741.2 1391.4L2725.7 1389.9L2713.1 1385.3L2702.6 1377.8L2694.0 1367.5L2687.4 1354.5L2682.6 1339.2L2679.7 1321.7L2678.4 1302.3L2678.8 1281.1L2680.8 1257.0L2683.8 1232.9L2687.9 1211.7L2693.2 1192.3L2699.8 1174.8L2707.7 1159.5L2717.1 1146.5L2727.8 1136.2L2739.9 1128.7L2753.5 1124.1L2769.3 1122.6L2785.4 1124.1L2799.9 1128.7L2813.4 1136.2L2825.8 1146.5L2836.8 1159.5L2845.9 1174.8L2853.0 1192.3L2857.7 1211.7L2859.6 1232.9Z"/>
<path fill="#ff4924" d="M2855.6 1257.5L2851.7 1280.7L2845.5 1301.3L2837.1 1320.1L2826.7 1337.1L2814.7 1352.0L2801.5 1364.6L2787.4 1374.7L2772.8 1382.0L2757.9 1386.5L2742.1 1388.0L2727.2 1386.5L2715.1 1382.0L2704.8 1374.7L2696.5 1364.6L2690.0 1352.0L2685.3 1337.1L2682.4 1320.1L2681.1 1301.3L2681.4 1280.7L2683.3 1257.5L2686.3 1234.3L2690.3 1213.7L2695.5 1194.9L2702.0 1177.9L2709.9 1163.0L2719.0 1150.4L2729.5 1140.3L2741.3 1133.0L2754.4 1128.5L2769.5 1127.0L2785.0 1128.5L2799.0 1133.0L2812.1 1140.3L2824.1 1150.4L2834.6 1163.0L2843.4 1177.9L2850.2 1194.9L2854.7 1213.7L2856.6 1234.3Z"/>
<path fill="#ff4027" d="M2852.5 1258.0L2848.8 1280.3L2842.8 1300.2L2834.6 1318.5L2824.6 1335.0L2813.0 1349.5L2800.3 1361.8L2786.6 1371.6L2772.5 1378.8L2758.1 1383.1L2743.0 1384.6L2728.7 1383.1L2717.0 1378.8L2707.0 1371.6L2698.9 1361.8L2692.6 1349.5L2688.0 1335.0L2685.1 1318.5L2683.8 1300.2L2684.1 1280.3L2685.9 1258.0L2688.8 1235.7L2692.8 1215.8L2697.9 1197.5L2704.3 1181.0L2712.0 1166.5L2720.9 1154.2L2731.1 1144.4L2742.6 1137.2L2755.3 1132.9L2769.8 1131.4L2784.6 1132.9L2798.1 1137.2L2810.7 1144.4L2822.3 1154.2L2832.4 1166.5L2840.9 1181.0L2847.5 1197.5L2851.7 1215.8L2853.5 1235.7Z"/>
<path fill="#ff372b" d="M2849.4 1258.5L2845.9 1279.9L2840.1 1299.1L2832.2 1316.8L2822.5 1332.9L2811.4 1347.0L2799.0 1358.9L2785.8 1368.5L2772.2 1375.4L2758.4 1379.7L2743.9 1381.1L2730.2 1379.7L2718.9 1375.4L2709.3 1368.5L2701.4 1358.9L2695.2 1347.0L2690.7 1332.9L2687.8 1316.8L2686.6 1299.1L2686.8 1279.9L2688.5 1258.5L2691.4 1237.1L2695.2 1217.9L2700.3 1200.2L2706.6 1184.1L2714.1 1170.0L2722.8 1158.1L2732.8 1148.5L2743.9 1141.6L2756.1 1137.3L2770.1 1135.9L2784.2 1137.3L2797.2 1141.6L2809.3 1148.5L2820.5 1158.1L2830.3 1170.0L2838.4 1184.1L2844.7 1200.2L2848.8 1217.9L2850.4 1237.1Z"/>
<path fill="#ff2a2f" d="M2846.4 1259.0L2842.9 1279.5L2837.4 1298.0L2829.8 1315.2L2820.5 1330.7L2809.7 1344.4L2797.8 1356.0L2785.1 1365.3L2771.9 1372.1L2758.6 1376.2L2744.8 1377.6L2731.7 1376.2L2720.8 1372.1L2711.5 1365.3L2703.8 1356.0L2697.8 1344.4L2693.4 1330.7L2690.6 1315.2L2689.3 1298.0L2689.5 1279.5L2691.1 1259.0L2693.9 1238.5L2697.7 1220.0L2702.7 1202.8L2708.8 1187.3L2716.2 1173.6L2724.7 1162.0L2734.4 1152.7L2745.1 1145.9L2757.0 1141.8L2770.3 1140.4L2783.8 1141.8L2796.3 1145.9L2808.0 1152.7L2818.6 1162.0L2828.1 1173.6L2835.9 1187.3L2841.9 1202.8L2845.8 1220.0L2847.4 1238.5Z"/>
<path fill="#ff1b32" d="M2843.3 1259.5L2840.0 1279.1L2834.7 1297.0L2827.4 1313.5L2818.4 1328.6L2808.0 1341.9L2796.5 1353.1L2784.3 1362.1L2771.7 1368.7L2758.9 1372.7L2745.7 1374.0L2733.2 1372.7L2722.7 1368.7L2713.7 1362.1L2706.3 1353.1L2700.4 1341.9L2696.1 1328.6L2693.4 1313.5L2692.1 1297.0L2692.2 1279.1L2693.8 1259.5L2696.5 1239.9L2700.2 1222.0L2705.1 1205.5L2711.1 1190.4L2718.3 1177.1L2726.6 1165.9L2736.0 1156.9L2746.4 1150.3L2757.8 1146.3L2770.5 1145.0L2783.4 1146.3L2795.3 1150.3L2806.6 1156.9L2816.8 1165.9L2825.8 1177.1L2833.4 1190.4L2839.1 1205.5L2842.8 1222.0L2844.3 1239.9Z"/>
<path fill="#ff0936" d="M2840.3 1260.0L2837.1 1278.7L2832.0 1295.9L2825.0 1311.9L2816.3 1326.4L2806.3 1339.3L2795.3 1350.1L2783.6 1358.9L2771.4 1365.2L2759.1 1369.1L2746.6 1370.4L2734.7 1369.1L2724.6 1365.2L2716.0 1358.9L2708.8 1350.1L2703.1 1339.3L2698.9 1326.4L2696.2 1311.9L2694.9 1295.9L2695.0 1278.7L2696.5 1260.0L2699.1 1241.3L2702.7 1224.1L2707.5 1208.1L2713.4 1193.6L2720.4 1180.7L2728.4 1169.9L2737.6 1161.1L2747.6 1154.8L2758.6 1150.9L2770.7 1149.6L2783.0 1150.9L2794.4 1154.8L2805.1 1161.1L2815.0 1169.9L2823.6 1180.7L2830.8 1193.6L2836.3 1208.1L2839.8 1224.1L2841.2 1241.3Z"/>
<path fill="#fb0039" d="M2837.2 1260.5L2834.2 1278.4L2829.3 1294.9L2822.5 1310.2L2814.2 1324.2L2804.7 1336.6L2794.1 1347.2L2782.8 1355.6L2771.2 1361.8L2759.5 1365.5L2747.5 1366.8L2736.3 1365.5L2726.6 1361.8L2718.2 1355.6L2711.3 1347.2L2705.8 1336.6L2701.7 1324.2L2699.0 1310.2L2697.8 1294.9L2697.8 1278.4L2699.2 1260.5L2701.8 1242.6L2705.3 1226.1L2710.0 1210.8L2715.7 1196.8L2722.5 1184.4L2730.4 1173.8L2739.2 1165.4L2748.9 1159.2L2759.4 1155.5L2770.9 1154.2L2782.6 1155.5L2793.5 1159.2L2803.7 1165.4L2813.1 1173.8L2821.4 1184.4L2828.3 1196.8L2833.5 1210.8L2836.8 1226.1L2838.1 1242.6Z"/>
<path fill="#f4003d" d="M2834.2 1260.5L2831.5 1277.4L2826.8 1293.2L2820.5 1307.9L2812.7 1321.3L2803.6 1333.2L2793.6 1343.3L2782.9 1351.4L2771.8 1357.3L2760.6 1360.9L2749.3 1362.2L2738.6 1360.9L2729.3 1357.3L2721.3 1351.4L2714.5 1343.3L2709.1 1333.2L2705.1 1321.3L2702.4 1307.9L2701.1 1293.2L2701.0 1277.4L2702.2 1260.5L2704.6 1243.5L2707.9 1227.7L2712.4 1213.0L2717.9 1199.6L2724.4 1187.7L2731.9 1177.6L2740.4 1169.5L2749.7 1163.6L2759.7 1160.0L2770.6 1158.8L2781.7 1160.0L2792.1 1163.6L2802.0 1169.5L2811.0 1177.6L2818.9 1187.7L2825.5 1199.6L2830.5 1213.0L2833.7 1227.7L2835.0 1243.5Z"/>
<path fill="#ec0040" d="M2831.3 1260.4L2828.7 1276.5L2824.4 1291.5L2818.5 1305.6L2811.1 1318.5L2802.5 1329.8L2793.0 1339.5L2782.9 1347.3L2772.4 1352.9L2761.8 1356.4L2751.0 1357.6L2740.9 1356.4L2732.0 1352.9L2724.3 1347.3L2717.7 1339.5L2712.5 1329.8L2708.5 1318.5L2705.8 1305.6L2704.4 1291.5L2704.2 1276.5L2705.3 1260.4L2707.4 1244.3L2710.6 1229.3L2714.8 1215.2L2720.1 1202.4L2726.3 1191.0L2733.5 1181.3L2741.6 1173.6L2750.5 1167.9L2760.0 1164.5L2770.4 1163.3L2780.9 1164.5L2790.8 1167.9L2800.2 1173.6L2808.8 1181.3L2816.4 1191.0L2822.7 1202.4L2827.5 1215.2L2830.6 1229.3L2831.9 1244.3Z"/>
<path fill="#e50044" d="M2828.3 1260.4L2825.9 1275.6L2821.9 1289.9L2816.4 1303.3L2809.4 1315.6L2801.4 1326.4L2792.4 1335.7L2782.8 1343.1L2772.9 1348.5L2762.8 1351.8L2752.7 1352.9L2743.1 1351.8L2734.6 1348.5L2727.2 1343.1L2720.8 1335.7L2715.7 1326.4L2711.8 1315.6L2709.1 1303.3L2707.6 1289.9L2707.4 1275.6L2708.3 1260.4L2710.3 1245.2L2713.2 1230.9L2717.2 1217.5L2722.2 1205.2L2728.2 1194.3L2735.1 1185.1L2742.8 1177.7L2751.3 1172.2L2760.4 1168.9L2770.2 1167.8L2780.1 1168.9L2789.5 1172.2L2798.5 1177.7L2806.6 1185.1L2813.9 1194.3L2819.9 1205.2L2824.5 1217.5L2827.5 1230.9L2828.8 1245.2Z"/>
<path fill="#dd0048" d="M2825.3 1260.3L2823.2 1274.7L2819.4 1288.3L2814.3 1301.0L2807.8 1312.7L2800.2 1323.1L2791.7 1331.9L2782.7 1338.9L2773.3 1344.1L2763.8 1347.3L2754.2 1348.3L2745.2 1347.3L2737.1 1344.1L2730.0 1338.9L2723.9 1331.9L2718.9 1323.1L2715.1 1312.7L2712.4 1301.0L2710.9 1288.3L2710.5 1274.7L2711.3 1260.3L2713.1 1246.0L2715.9 1232.4L2719.7 1219.7L2724.4 1208.0L2730.1 1197.6L2736.7 1188.8L2744.0 1181.7L2752.1 1176.6L2760.7 1173.4L2770.0 1172.4L2779.3 1173.4L2788.3 1176.6L2796.7 1181.7L2804.5 1188.8L2811.4 1197.6L2817.1 1208.0L2821.5 1219.7L2824.4 1232.4L2825.7 1246.0Z"/>
<path fill="#d6004b" d="M2822.3 1260.3L2820.4 1273.8L2816.9 1286.7L2812.1 1298.7L2806.0 1309.8L2798.9 1319.7L2791.0 1328.0L2782.5 1334.8L2773.6 1339.7L2764.7 1342.7L2755.7 1343.7L2747.2 1342.7L2739.5 1339.7L2732.7 1334.8L2726.9 1328.0L2722.1 1319.7L2718.3 1309.8L2715.7 1298.7L2714.1 1286.7L2713.7 1273.8L2714.3 1260.3L2716.0 1246.8L2718.6 1234.0L2722.1 1221.9L2726.7 1210.8L2732.1 1201.0L2738.3 1192.6L2745.3 1185.8L2752.9 1180.9L2761.1 1177.9L2769.8 1176.9L2778.6 1177.9L2787.0 1180.9L2795.0 1185.8L2802.4 1192.6L2808.9 1201.0L2814.4 1210.8L2818.6 1221.9L2821.4 1234.0L2822.7 1246.8Z"/>
<path fill="#cf004b" d="M2819.3 1260.3L2817.6 1272.9L2814.4 1285.1L2809.9 1296.5L2804.3 1307.0L2797.6 1316.3L2790.2 1324.2L2782.2 1330.6L2773.9 1335.3L2765.5 1338.1L2757.1 1339.1L2749.1 1338.1L2741.8 1335.3L2735.4 1330.6L2729.8 1324.2L2725.1 1316.3L2721.5 1307.0L2718.9 1296.5L2717.3 1285.1L2716.8 1272.9L2717.3 1260.3L2718.8 1247.6L2721.3 1235.5L2724.6 1224.1L2728.9 1213.6L2734.0 1204.3L2739.9 1196.3L2746.5 1189.9L2753.7 1185.3L2761.4 1182.4L2769.6 1181.5L2777.8 1182.4L2785.8 1185.3L2793.4 1189.9L2800.3 1196.3L2806.5 1204.3L2811.7 1213.6L2815.7 1224.1L2818.3 1235.5L2819.6 1247.6Z"/>
<path fill="#c9004b" d="M2816.3 1260.2L2814.8 1272.1L2811.9 1283.5L2807.7 1294.2L2802.5 1304.1L2796.3 1312.9L2789.4 1320.4L2781.9 1326.4L2774.1 1330.8L2766.3 1333.5L2758.4 1334.4L2751.0 1333.5L2744.1 1330.8L2738.0 1326.4L2732.6 1320.4L2728.1 1312.9L2724.6 1304.1L2722.1 1294.2L2720.5 1283.5L2719.9 1272.1L2720.3 1260.2L2721.7 1248.4L2724.0 1237.0L2727.1 1226.2L2731.1 1216.4L2735.9 1207.6L2741.5 1200.1L2747.8 1194.0L2754.6 1189.6L2761.8 1186.9L2769.4 1186.0L2777.1 1186.9L2784.6 1189.6L2791.7 1194.0L2798.3 1200.1L2804.1 1207.6L2809.0 1216.4L2812.8 1226.2L2815.3 1237.0L2816.5 1248.4Z"/>
<path fill="#c1004a" d="M2813.4 1260.2L2811.9 1271.2L2809.3 1281.9L2805.5 1292.0L2800.6 1301.3L2794.9 1309.5L2788.5 1316.6L2781.5 1322.3L2774.3 1326.4L2767.0 1329.0L2759.7 1329.8L2752.7 1329.0L2746.3 1326.4L2740.5 1322.3L2735.4 1316.6L2731.1 1309.5L2727.7 1301.3L2725.2 1292.0L2723.7 1281.9L2723.0 1271.2L2723.4 1260.2L2724.6 1249.2L2726.7 1238.5L2729.6 1228.4L2733.4 1219.1L2737.9 1210.9L2743.1 1203.8L2749.0 1198.1L2755.4 1194.0L2762.2 1191.4L2769.3 1190.6L2776.4 1191.4L2783.4 1194.0L2790.1 1198.1L2796.2 1203.8L2801.7 1210.9L2806.3 1219.1L2809.9 1228.4L2812.3 1238.5L2813.5 1249.2Z"/>
<path fill="#b60042" d="M2810.4 1260.2L2809.1 1270.4L2806.7 1280.3L2803.2 1289.7L2798.8 1298.4L2793.5 1306.2L2787.5 1312.8L2781.1 1318.1L2774.4 1322.0L2767.6 1324.4L2760.8 1325.2L2754.4 1324.4L2748.3 1322.0L2742.9 1318.1L2738.1 1312.8L2734.0 1306.2L2730.8 1298.4L2728.3 1289.7L2726.8 1280.3L2726.1 1270.4L2726.4 1260.2L2727.5 1249.9L2729.4 1240.0L2732.1 1230.6L2735.6 1221.9L2739.9 1214.1L2744.8 1207.5L2750.3 1202.2L2756.2 1198.3L2762.6 1195.9L2769.1 1195.1L2775.8 1195.9L2782.3 1198.3L2788.5 1202.2L2794.2 1207.5L2799.3 1214.1L2803.6 1221.9L2807.0 1230.6L2809.3 1240.0L2810.4 1249.9Z"/>
<path fill="#ab003b" d="M2807.4 1260.1L2806.3 1269.6L2804.1 1278.8L2800.9 1287.5L2796.8 1295.6L2792.0 1302.8L2786.5 1309.0L2780.6 1313.9L2774.4 1317.6L2768.1 1319.8L2761.9 1320.5L2755.9 1319.8L2750.3 1317.6L2745.2 1313.9L2740.7 1309.0L2736.8 1302.8L2733.7 1295.6L2731.4 1287.5L2729.9 1278.8L2729.2 1269.6L2729.4 1260.1L2730.3 1250.7L2732.1 1241.5L2734.6 1232.7L2737.9 1224.6L2741.8 1217.4L2746.4 1211.3L2751.5 1206.3L2757.1 1202.7L2762.9 1200.5L2769.0 1199.7L2775.1 1200.5L2781.2 1202.7L2786.9 1206.3L2792.3 1211.3L2797.0 1217.4L2801.0 1224.6L2804.1 1232.7L2806.3 1241.5L2807.4 1250.7Z"/>
<path fill="#9e0032" d="M2804.4 1260.1L2803.4 1268.8L2801.5 1277.3L2798.6 1285.4L2794.9 1292.9L2790.5 1299.5L2785.5 1305.2L2780.1 1309.8L2774.4 1313.1L2768.6 1315.2L2762.9 1315.9L2757.4 1315.2L2752.2 1313.1L2747.4 1309.8L2743.2 1305.2L2739.6 1299.5L2736.7 1292.9L2734.4 1285.4L2733.0 1277.3L2732.3 1268.8L2732.4 1260.1L2733.2 1251.4L2734.8 1242.8L2737.2 1234.8L2740.2 1227.3L2743.8 1220.6L2748.0 1214.9L2752.7 1210.4L2757.9 1207.0L2763.3 1205.0L2768.9 1204.3L2774.5 1205.0L2780.1 1207.0L2785.4 1210.4L2790.3 1214.9L2794.7 1220.6L2798.4 1227.3L2801.3 1234.8L2803.3 1242.8L2804.4 1251.4Z"/>
<path fill="#910028" d="M2801.4 1260.0L2800.6 1268.0L2798.8 1275.8L2796.3 1283.3L2792.9 1290.1L2788.9 1296.2L2784.4 1301.4L2779.5 1305.6L2774.4 1308.7L2769.1 1310.6L2763.8 1311.2L2758.8 1310.6L2754.0 1308.7L2749.6 1305.6L2745.6 1301.4L2742.3 1296.2L2739.5 1290.1L2737.4 1283.3L2736.1 1275.8L2735.4 1268.0L2735.4 1260.0L2736.1 1252.0L2737.6 1244.2L2739.7 1236.8L2742.4 1230.0L2745.8 1223.9L2749.6 1218.6L2754.0 1214.5L2758.7 1211.4L2763.6 1209.5L2768.8 1208.9L2774.0 1209.5L2779.1 1211.4L2783.9 1214.5L2788.4 1218.6L2792.4 1223.9L2795.8 1230.0L2798.5 1236.8L2800.4 1244.2L2801.3 1252.0Z"/>
<path fill="#84001c" d="M2798.4 1260.0L2797.7 1267.3L2796.2 1274.4L2793.9 1281.1L2790.9 1287.4L2787.3 1292.9L2783.3 1297.7L2778.9 1301.5L2774.2 1304.3L2769.4 1306.0L2764.7 1306.5L2760.0 1306.0L2755.7 1304.3L2751.6 1301.5L2748.0 1297.7L2744.9 1292.9L2742.4 1287.4L2740.4 1281.1L2739.1 1274.4L2738.4 1267.3L2738.4 1260.0L2739.1 1252.7L2740.3 1245.6L2742.2 1238.9L2744.7 1232.6L2747.8 1227.1L2751.3 1222.3L2755.2 1218.5L2759.5 1215.7L2764.0 1214.0L2768.7 1213.5L2773.4 1214.0L2778.0 1215.7L2782.5 1218.5L2786.5 1222.3L2790.2 1227.1L2793.3 1232.6L2795.7 1238.9L2797.4 1245.6L2798.3 1252.7Z"/>
<path fill="#78000f" d="M2795.4 1259.9L2794.8 1266.5L2793.4 1272.9L2791.4 1278.9L2788.7 1284.5L2785.6 1289.5L2781.9 1293.8L2778.0 1297.2L2773.8 1299.8L2769.5 1301.3L2765.3 1301.8L2761.1 1301.3L2757.1 1299.8L2753.5 1297.2L2750.2 1293.8L2747.4 1289.5L2745.1 1284.5L2743.3 1278.9L2742.1 1272.9L2741.4 1266.5L2741.4 1259.9L2742.0 1253.3L2743.2 1246.9L2744.9 1240.9L2747.1 1235.3L2749.9 1230.3L2753.1 1226.0L2756.6 1222.6L2760.5 1220.0L2764.6 1218.5L2768.8 1218.0L2773.0 1218.5L2777.2 1220.0L2781.1 1222.6L2784.8 1226.0L2788.1 1230.3L2790.8 1235.3L2793.0 1240.9L2794.5 1246.9L2795.3 1253.3Z"/>
<path fill="#6e0002" d="M2792.4 1259.8L2791.9 1265.6L2790.7 1271.3L2788.9 1276.7L2786.6 1281.7L2783.8 1286.2L2780.6 1290.0L2777.1 1293.0L2773.4 1295.2L2769.6 1296.6L2765.8 1297.1L2762.1 1296.6L2758.6 1295.2L2755.3 1293.0L2752.4 1290.0L2749.8 1286.2L2747.7 1281.7L2746.1 1276.7L2745.0 1271.3L2744.5 1265.6L2744.4 1259.8L2744.9 1254.0L2746.0 1248.3L2747.5 1242.9L2749.5 1237.9L2752.0 1233.4L2754.8 1229.6L2758.0 1226.6L2761.5 1224.4L2765.1 1223.0L2768.8 1222.5L2772.6 1223.0L2776.3 1224.4L2779.8 1226.6L2783.0 1229.6L2785.9 1233.4L2788.4 1237.9L2790.3 1242.9L2791.6 1248.3L2792.3 1254.0Z"/>
<path fill="#5f0000" d="M2789.4 1259.7L2789.0 1264.8L2787.9 1269.8L2786.4 1274.5L2784.4 1278.9L2781.9 1282.8L2779.2 1286.1L2776.1 1288.8L2772.9 1290.7L2769.6 1291.9L2766.3 1292.3L2763.0 1291.9L2759.9 1290.7L2757.1 1288.8L2754.5 1286.1L2752.2 1282.8L2750.4 1278.9L2749.0 1274.5L2748.0 1269.8L2747.5 1264.8L2747.4 1259.7L2747.9 1254.6L2748.8 1249.6L2750.1 1244.9L2751.9 1240.5L2754.1 1236.6L2756.6 1233.3L2759.4 1230.6L2762.4 1228.7L2765.6 1227.5L2768.9 1227.1L2772.2 1227.5L2775.4 1228.7L2778.4 1230.6L2781.3 1233.3L2783.8 1236.6L2785.9 1240.5L2787.6 1244.9L2788.7 1249.6L2789.4 1254.6Z"/>
<path fill="#500000" d="M2786.4 1259.6L2786.0 1264.0L2785.2 1268.2L2783.9 1272.3L2782.2 1276.0L2780.1 1279.4L2777.7 1282.2L2775.2 1284.5L2772.4 1286.2L2769.6 1287.2L2766.7 1287.6L2763.9 1287.2L2761.3 1286.2L2758.8 1284.5L2756.6 1282.2L2754.6 1279.4L2753.0 1276.0L2751.8 1272.3L2750.9 1268.2L2750.5 1264.0L2750.4 1259.6L2750.8 1255.2L2751.6 1251.0L2752.8 1246.9L2754.3 1243.2L2756.2 1239.8L2758.3 1237.0L2760.7 1234.7L2763.3 1233.0L2766.1 1232.0L2768.9 1231.6L2771.7 1232.0L2774.5 1233.0L2777.1 1234.7L2779.5 1237.0L2781.6 1239.8L2783.4 1243.2L2784.8 1246.9L2785.8 1251.0L2786.4 1255.2Z"/>
<path fill="#450000" d="M2783.4 1259.5L2783.1 1263.2L2782.4 1266.7L2781.3 1270.1L2779.9 1273.2L2778.2 1276.0L2776.3 1278.4L2774.1 1280.3L2771.9 1281.7L2769.5 1282.5L2767.1 1282.8L2764.8 1282.5L2762.6 1281.7L2760.5 1280.3L2758.6 1278.4L2757.0 1276.0L2755.6 1273.2L2754.6 1270.1L2753.9 1266.7L2753.5 1263.2L2753.4 1259.5L2753.8 1255.8L2754.4 1252.3L2755.4 1248.9L2756.7 1245.8L2758.2 1243.0L2760.0 1240.6L2762.1 1238.7L2764.2 1237.3L2766.5 1236.5L2768.9 1236.2L2771.2 1236.5L2773.5 1237.3L2775.7 1238.7L2777.7 1240.6L2779.5 1243.0L2780.9 1245.8L2782.1 1248.9L2782.9 1252.3L2783.4 1255.8Z"/>
<path fill="#3f0000" d="M2780.5 1259.4L2780.2 1262.3L2779.6 1265.2L2778.8 1267.9L2777.7 1270.4L2776.3 1272.6L2774.8 1274.5L2773.1 1276.0L2771.3 1277.2L2769.4 1277.8L2767.5 1278.1L2765.6 1277.8L2763.8 1277.2L2762.2 1276.0L2760.7 1274.5L2759.3 1272.6L2758.2 1270.4L2757.4 1267.9L2756.8 1265.2L2756.5 1262.3L2756.5 1259.4L2756.7 1256.5L2757.2 1253.6L2758.0 1250.9L2759.0 1248.4L2760.3 1246.2L2761.8 1244.3L2763.4 1242.8L2765.1 1241.6L2767.0 1241.0L2768.8 1240.7L2770.7 1241.0L2772.6 1241.6L2774.3 1242.8L2775.9 1244.3L2777.3 1246.2L2778.5 1248.4L2779.4 1250.9L2780.0 1253.6L2780.4 1256.5Z"/>
<path fill="#3e0000" d="M2777.5 1259.3L2777.3 1261.5L2776.8 1263.6L2776.2 1265.7L2775.4 1267.5L2774.4 1269.2L2773.2 1270.6L2772.0 1271.8L2770.6 1272.6L2769.2 1273.1L2767.8 1273.3L2766.4 1273.1L2765.1 1272.6L2763.8 1271.8L2762.7 1270.6L2761.7 1269.2L2760.8 1267.5L2760.2 1265.7L2759.7 1263.6L2759.5 1261.5L2759.5 1259.3L2759.6 1257.1L2760.0 1255.0L2760.6 1252.9L2761.4 1251.1L2762.4 1249.4L2763.5 1248.0L2764.7 1246.8L2766.0 1246.0L2767.4 1245.5L2768.8 1245.3L2770.2 1245.5L2771.6 1246.0L2772.9 1246.8L2774.0 1248.0L2775.1 1249.4L2776.0 1251.1L2776.7 1252.9L2777.2 1255.0L2777.4 1257.1Z"/>
<path fill="#3d0000" d="M2774.5 1259.2L2774.3 1260.7L2774.1 1262.1L2773.6 1263.4L2773.1 1264.7L2772.4 1265.8L2771.7 1266.8L2770.8 1267.5L2769.9 1268.1L2769.0 1268.4L2768.1 1268.5L2767.1 1268.4L2766.2 1268.1L2765.4 1267.5L2764.6 1266.8L2764.0 1265.8L2763.4 1264.7L2763.0 1263.4L2762.6 1262.1L2762.5 1260.7L2762.5 1259.2L2762.6 1257.7L2762.8 1256.3L2763.2 1255.0L2763.8 1253.7L2764.4 1252.6L2765.1 1251.6L2766.0 1250.9L2766.8 1250.3L2767.8 1250.0L2768.7 1249.9L2769.6 1250.0L2770.6 1250.3L2771.4 1250.9L2772.2 1251.6L2772.9 1252.6L2773.5 1253.7L2773.9 1255.0L2774.3 1256.3L2774.4 1257.7Z"/>
<path fill="#3c0000" d="M2771.5 1259.1L2771.4 1259.8L2771.3 1260.5L2771.1 1261.2L2770.8 1261.8L2770.5 1262.4L2770.1 1262.9L2769.7 1263.3L2769.2 1263.5L2768.8 1263.7L2768.3 1263.8L2767.8 1263.7L2767.4 1263.5L2767.0 1263.3L2766.6 1262.9L2766.2 1262.4L2765.9 1261.8L2765.7 1261.2L2765.6 1260.5L2765.5 1259.8L2765.5 1259.1L2765.5 1258.4L2765.7 1257.7L2765.9 1257.0L2766.1 1256.4L2766.4 1255.8L2766.8 1255.3L2767.2 1254.9L2767.7 1254.7L2768.1 1254.5L2768.6 1254.4L2769.1 1254.5L2769.5 1254.7L2769.9 1254.9L2770.3 1255.3L2770.7 1255.8L2771.0 1256.4L2771.2 1257.0L2771.4 1257.7L2771.5 1258.4Z"/>
</g>
<g fill="none" stroke="#000" stroke-width="3.33" stroke-linejoin="miter">
<path d="M2000.5 973.6 L1983.6 982.5 L1966.7 991.4 L1949.9 1000.3 L1933.2 1009.2 L1916.7 1018.0 L1900.4 1026.8 L1893.2 1006.3 L1886.1 985.9 L1879.0 965.7 L1871.9 945.6 L1864.9 925.7 L1858.0 906.2 L1873.8 896.8 L1889.8 887.4 L1906.0 878.1 L1922.4 868.9 L1938.9 859.7 L1955.5 850.8 L1963.0 870.6 L1970.6 890.8 L1978.1 911.2 L1985.6 931.9 L1993.1 952.7Z"/>
<path d="M2045.2 1104.6 L2028.3 1113.2 L2011.5 1121.7 L1994.8 1130.1 L1978.1 1138.4 L1961.5 1146.4 L1945.1 1154.2 L1938.2 1134.7 L1931.2 1114.8 L1924.2 1094.8 L1917.1 1074.5 L1910.0 1054.1 L1902.8 1033.7 L1919.1 1025.0 L1935.7 1016.2 L1952.4 1007.4 L1969.2 998.5 L1986.1 989.6 L2003.0 980.7 L2010.3 1001.7 L2017.5 1022.6 L2024.6 1043.4 L2031.6 1064.0 L2038.5 1084.4Z"/>
<path d="M2106.5 919.6 L2090.2 927.7 L2073.6 936.0 L2056.9 944.4 L2040.1 953.0 L2023.2 961.8 L2006.3 970.6 L1998.8 949.7 L1991.4 928.8 L1983.8 908.2 L1976.3 887.7 L1968.7 867.6 L1961.1 847.7 L1977.8 839.0 L1994.4 830.5 L2011.0 822.2 L2027.5 814.2 L2044.0 806.5 L2060.3 799.1 L2068.2 818.6 L2076.1 838.3 L2083.8 858.3 L2091.5 878.6 L2099.1 899.0Z"/>
<path d="M2149.6 1049.1 L2133.6 1057.8 L2117.3 1066.5 L2100.9 1075.3 L2084.3 1084.1 L2067.6 1092.9 L2050.9 1101.6 L2044.2 1081.5 L2037.4 1061.0 L2030.4 1040.4 L2023.3 1019.6 L2016.1 998.6 L2008.8 977.7 L2025.7 968.9 L2042.6 960.1 L2059.4 951.5 L2076.1 943.0 L2092.7 934.7 L2109.0 926.6 L2116.3 947.2 L2123.3 967.9 L2130.2 988.4 L2136.9 1008.8 L2143.3 1029.1Z"/>
<path d="M2208.7 874.1 L2191.6 881.6 L2174.6 889.2 L2157.7 897.0 L2140.9 904.9 L2124.3 912.8 L2108.0 920.7 L2100.6 900.1 L2093.1 879.7 L2085.5 859.4 L2077.8 839.3 L2070.0 819.5 L2062.1 800.1 L2077.8 791.3 L2093.7 782.7 L2109.8 774.2 L2126.1 766.0 L2142.6 757.9 L2159.2 750.2 L2167.8 770.1 L2176.4 790.3 L2184.7 810.9 L2192.9 831.8 L2200.9 852.8Z"/>
<path d="M2251.7 1008.1 L2234.7 1015.3 L2217.7 1022.4 L2200.7 1029.5 L2183.8 1036.6 L2167.1 1043.6 L2150.6 1050.5 L2144.4 1030.4 L2138.0 1010.1 L2131.4 989.7 L2124.6 969.1 L2117.6 948.4 L2110.4 927.8 L2126.8 919.9 L2143.4 912.0 L2160.2 904.2 L2177.1 896.4 L2194.2 888.8 L2211.2 881.3 L2218.7 902.6 L2225.9 923.9 L2232.8 945.2 L2239.4 966.4 L2245.7 987.4Z"/>
<path d="M2316.0 831.2 L2299.4 837.3 L2282.6 843.7 L2265.7 850.3 L2248.6 857.1 L2231.6 864.2 L2214.5 871.5 L2206.7 850.3 L2198.7 829.2 L2190.5 808.4 L2182.1 787.8 L2173.5 767.5 L2164.8 747.6 L2181.5 740.3 L2198.2 733.2 L2215.0 726.6 L2231.7 720.3 L2248.4 714.4 L2264.9 708.9 L2274.0 728.5 L2282.9 748.5 L2291.6 768.8 L2300.0 789.4 L2308.2 810.2Z"/>
<path d="M2357.9 964.2 L2341.6 970.9 L2325.0 977.7 L2308.3 984.6 L2291.5 991.5 L2274.5 998.6 L2257.5 1005.7 L2251.5 984.9 L2245.2 963.9 L2238.6 942.8 L2231.7 921.5 L2224.5 900.1 L2217.0 878.8 L2234.2 871.5 L2251.2 864.4 L2268.3 857.5 L2285.2 850.9 L2302.0 844.5 L2318.6 838.4 L2326.0 859.5 L2333.1 880.6 L2339.8 901.7 L2346.2 922.7 L2352.3 943.6Z"/>
<path d="M2419.6 799.6 L2402.0 804.4 L2384.5 809.5 L2367.2 814.8 L2350.1 820.3 L2333.1 826.0 L2316.4 831.8 L2308.7 810.8 L2300.6 789.9 L2292.3 769.3 L2283.7 749.0 L2274.8 729.0 L2265.8 709.3 L2281.7 702.5 L2297.9 696.1 L2314.4 689.9 L2331.2 684.0 L2348.1 678.5 L2365.3 673.4 L2375.2 693.6 L2384.8 714.2 L2394.0 735.2 L2402.9 756.4 L2411.5 777.9Z"/>
<path d="M2460.9 937.3 L2443.5 941.7 L2426.1 946.3 L2408.8 950.9 L2391.6 955.6 L2374.6 960.3 L2357.8 965.0 L2352.2 944.3 L2346.3 923.4 L2340.0 902.4 L2333.3 881.2 L2326.3 860.1 L2319.0 838.9 L2335.7 833.2 L2352.7 827.6 L2369.8 822.1 L2387.2 816.8 L2404.7 811.8 L2422.3 807.0 L2429.8 828.8 L2436.9 850.7 L2443.6 872.5 L2449.8 894.3 L2455.6 915.9Z"/>
<path d="M2531.2 775.8 L2513.8 778.7 L2496.3 782.0 L2478.6 785.5 L2461.0 789.4 L2443.3 793.6 L2425.6 798.0 L2417.4 776.3 L2408.9 754.8 L2400.0 733.6 L2390.7 712.6 L2381.1 692.0 L2371.2 671.8 L2388.6 667.3 L2406.1 663.2 L2423.7 659.5 L2441.3 656.3 L2459.0 653.6 L2476.7 651.3 L2486.8 671.2 L2496.5 691.5 L2505.9 712.2 L2514.8 733.2 L2523.2 754.4Z"/>
<path d="M2570.1 911.8 L2553.3 915.4 L2536.2 919.2 L2519.0 923.1 L2501.7 927.2 L2484.3 931.4 L2466.9 935.8 L2461.6 914.4 L2455.8 892.7 L2449.6 871.0 L2442.9 849.1 L2435.8 827.2 L2428.2 805.4 L2445.9 801.0 L2463.6 796.8 L2481.3 792.9 L2498.9 789.3 L2516.4 786.0 L2533.8 783.1 L2541.2 804.6 L2548.0 826.2 L2554.3 847.8 L2560.1 869.3 L2565.4 890.6Z"/>
<path d="M2638.6 763.1 L2619.9 764.3 L2601.4 765.8 L2583.1 767.6 L2565.0 769.7 L2547.2 772.0 L2529.7 774.7 L2521.7 753.3 L2513.3 732.1 L2504.4 711.1 L2495.1 690.4 L2485.4 670.1 L2475.3 650.1 L2492.4 646.6 L2509.8 643.5 L2527.6 640.8 L2545.7 638.6 L2564.2 636.8 L2583.0 635.4 L2593.5 655.9 L2603.6 676.7 L2613.1 697.9 L2622.2 719.4 L2630.7 741.2Z"/>
<path d="M2674.7 902.8 L2656.6 903.8 L2638.7 905.0 L2620.8 906.2 L2603.1 907.6 L2585.6 909.1 L2568.3 910.7 L2563.6 889.5 L2558.4 868.1 L2552.6 846.6 L2546.3 825.1 L2539.5 803.5 L2532.2 781.9 L2549.8 779.4 L2567.6 777.1 L2585.7 775.0 L2604.0 773.2 L2622.5 771.8 L2641.1 770.6 L2648.2 792.8 L2654.7 814.9 L2660.6 837.1 L2665.9 859.2 L2670.6 881.1Z"/>
<path d="M2757.8 763.2 L2739.1 762.4 L2720.4 761.8 L2701.5 761.6 L2682.6 761.7 L2663.8 762.1 L2644.9 762.8 L2637.1 740.9 L2628.6 719.1 L2619.6 697.6 L2610.0 676.4 L2599.9 655.5 L2589.4 635.1 L2608.5 634.4 L2627.9 634.2 L2647.3 634.5 L2666.9 635.3 L2686.5 636.5 L2706.1 638.2 L2716.1 658.2 L2725.6 678.6 L2734.5 699.4 L2742.9 720.5 L2750.7 741.8Z"/>
<path d="M2787.9 899.9 L2770.4 900.0 L2752.7 900.2 L2734.8 900.6 L2716.9 901.1 L2698.8 901.8 L2680.8 902.5 L2676.8 880.8 L2672.1 858.9 L2666.9 836.8 L2661.0 814.6 L2654.6 792.4 L2647.5 770.3 L2666.3 769.6 L2685.1 769.2 L2704.0 769.1 L2722.8 769.3 L2741.5 769.8 L2760.1 770.6 L2766.3 792.2 L2771.9 813.9 L2776.9 835.6 L2781.2 857.2 L2784.9 878.6Z"/>
</g>
<g fill="none" stroke="#b0b0b0" stroke-opacity="0.5" stroke-width="6.67" clip-path="url(#fr)">
<path d="M806.9 1669.5H2986.1"/>
<path d="M356.2 1367.5H3436.8"/>
<path d="M212.7 1027.5H3580.3"/>
<path d="M356.2 687.5H3436.8"/>
<path d="M806.9 385.5H2986.1"/>
<path d="M1897.5 185.4V1869.2"/>
<path d="M1896.5 185.4A420.9 841.9 0 0 0 1896.5 1869.2"/>
<path d="M1896.5 185.4A420.9 841.9 0 0 1 1896.5 1869.2"/>
<path d="M1896.5 185.4A841.9 841.9 0 0 0 1896.5 1869.2"/>
<path d="M1896.5 185.4A841.9 841.9 0 0 1 1896.5 1869.2"/>
<path d="M1896.5 185.4A1262.8 841.9 0 0 0 1896.5 1869.2"/>
<path d="M1896.5 185.4A1262.8 841.9 0 0 1 1896.5 1869.2"/>
</g>
<ellipse cx="1896.5" cy="1027.2" rx="1683.9" ry="841.7" fill="none" stroke="#000" stroke-width="6.67"/>
<g stroke="#000" stroke-width="6.67" fill="none">
<path d="M634.5 1027v29.9"/>
<path d="M1055.5 1027v29.9"/>
<path d="M1476.5 1027v29.9"/>
<path d="M1897.5 1027v29.9"/>
<path d="M2317.5 1027v29.9"/>
<path d="M2738.5 1027v29.9"/>
<path d="M3159.5 1027v29.9"/>
<path d="M357.2 1367.5H327.0"/>
<path d="M807.9 1669.5H777.7"/>
</g>
<g font-size="83.33">
<text x="214.2" y="1151.1" text-anchor="middle">0<tspan font-size="58.33" dy="-33.5">h</tspan></text>
<text x="635.2" y="1150.2" text-anchor="middle">21<tspan font-size="58.33" dy="-33.5">h</tspan></text>
<text x="1056.1" y="1151.1" text-anchor="middle">18<tspan font-size="58.33" dy="-33.5">h</tspan></text>
<text x="1477.0" y="1151.1" text-anchor="middle">15<tspan font-size="58.33" dy="-33.5">h</tspan></text>
<text x="1898.0" y="1150.2" text-anchor="middle">12<tspan font-size="58.33" dy="-33.5">h</tspan></text>
<text x="2318.9" y="1151.1" text-anchor="middle">9<tspan font-size="58.33" dy="-33.5">h</tspan></text>
<text x="2739.9" y="1151.1" text-anchor="middle">6<tspan font-size="58.33" dy="-33.5">h</tspan></text>
<text x="3160.9" y="1151.1" text-anchor="middle">3<tspan font-size="58.33" dy="-33.5">h</tspan></text>
<text x="3581.8" y="1151.1" text-anchor="middle">0<tspan font-size="58.33" dy="-33.5">h</tspan></text>
<text x="670.4" y="321.2">60°</text>
<text x="153.2" y="665.1">30°</text>
<text x="59.5" y="1050.7">0°</text>
<text x="122.6" y="1435.0">-30°</text>
<text x="645.7" y="1777.5">-60°</text>
<text x="2975.0" y="322.1">60°</text>
<text x="3464.0" y="636.0">30°</text>
<text x="3624.9" y="973.5">0°</text>
<text x="3492.3" y="1435.3">-30°</text>
<text x="2969.2" y="1778.2">-60°</text>
</g>
<text x="1897" y="136" font-size="100.15" text-anchor="middle">GRB231123114, Sector 72, Enclosed prob 0.000</text>
</svg></body></html>
